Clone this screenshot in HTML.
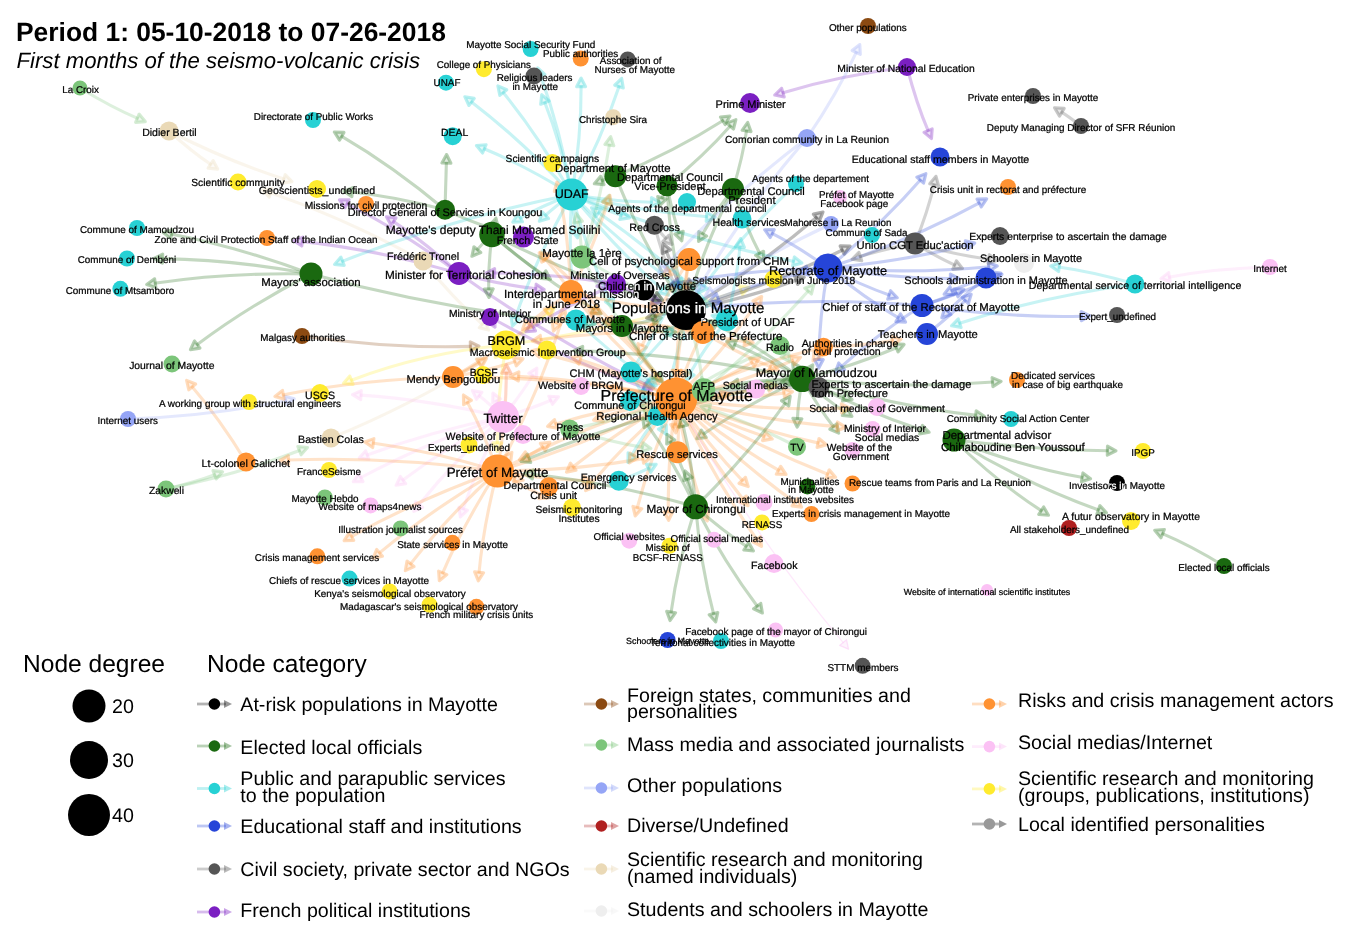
<!DOCTYPE html>
<html><head><meta charset="utf-8"><title>Period 1</title>
<style>
html,body{margin:0;padding:0;background:#fff;}
body{width:1351px;height:939px;overflow:hidden;}
svg{display:block;font-family:"Liberation Sans",Arial,sans-serif;text-rendering:geometricPrecision;}
.e{fill:none;stroke-linecap:butt;stroke-linejoin:miter;}
.l{fill:#000;stroke:#000;stroke-width:0.24px;}
</style></head><body>
<svg width="1351" height="939" viewBox="0 0 1351 939">
<rect width="1351" height="939" fill="#fff"/>

<g id="edges">
<g stroke="#7cc57a" stroke-opacity="0.260" stroke-width="3.1" class="e"><path d="M80.0,88.0Q111.5,107.3 138.2,118.6"/><path d="M135.6,122.4L145.3,121.6L139.1,114.1Z" stroke-opacity="0.322" stroke-width="3.1" stroke-linejoin="round" fill="#7cc57a" fill-opacity="0.13"/></g>
<g stroke="#ead9b6" stroke-opacity="0.260" stroke-width="3.1" class="e"><path d="M169.0,131.0Q192.0,151.9 211.3,164.8"/><path d="M208.1,168.1L217.7,169.1L213.1,160.6Z" stroke-opacity="0.322" stroke-width="3.1" stroke-linejoin="round" fill="#ead9b6" fill-opacity="0.13"/></g>
<g stroke="#ead9b6" stroke-opacity="0.260" stroke-width="3.1" class="e"><path d="M169.0,131.0Q228.5,161.5 284.7,179.2"/><path d="M282.5,183.3L292.0,181.6L285.2,174.7Z" stroke-opacity="0.322" stroke-width="3.1" stroke-linejoin="round" fill="#ead9b6" fill-opacity="0.13"/></g>
<g stroke="#ead9b6" stroke-opacity="0.260" stroke-width="3.1" class="e"><path d="M423.0,261.0Q345.8,218.5 269.9,192.6"/><path d="M272.2,188.6L262.6,190.1L269.3,197.1Z" stroke-opacity="0.322" stroke-width="3.1" stroke-linejoin="round" fill="#ead9b6" fill-opacity="0.13"/></g>
<g stroke="#ead9b6" stroke-opacity="0.260" stroke-width="3.1" class="e"><path d="M423.0,261.0Q453.1,298.2 482.9,324.9"/><path d="M479.2,327.7L488.6,330.1L485.2,321.0Z" stroke-opacity="0.322" stroke-width="3.1" stroke-linejoin="round" fill="#ead9b6" fill-opacity="0.13"/></g>
<g stroke="#1a6910" stroke-opacity="0.260" stroke-width="3.1" class="e"><path d="M445.0,209.8Q445.8,182.1 446.4,162.2"/><path d="M450.9,163.2L446.6,154.5L441.9,163.0Z" stroke-opacity="0.322" stroke-width="3.1" stroke-linejoin="round" fill="#1a6910" fill-opacity="0.13"/></g>
<g stroke="#1a6910" stroke-opacity="0.260" stroke-width="3.1" class="e"><path d="M445.0,209.8Q392.9,166.2 341.0,135.9"/><path d="M344.0,132.4L334.3,132.0L339.5,140.2Z" stroke-opacity="0.322" stroke-width="3.1" stroke-linejoin="round" fill="#1a6910" fill-opacity="0.13"/></g>
<g stroke="#1a6910" stroke-opacity="0.260" stroke-width="3.1" class="e"><path d="M445.0,209.8Q395.1,196.5 351.5,192.0"/><path d="M352.8,187.6L343.8,191.2L351.9,196.6Z" stroke-opacity="0.322" stroke-width="3.1" stroke-linejoin="round" fill="#1a6910" fill-opacity="0.13"/></g>
<g stroke="#1a6910" stroke-opacity="0.260" stroke-width="3.1" class="e"><path d="M445.0,209.8Q471.0,221.8 490.8,227.9"/><path d="M488.7,231.9L498.2,230.1L491.3,223.3Z" stroke-opacity="0.322" stroke-width="3.1" stroke-linejoin="round" fill="#1a6910" fill-opacity="0.13"/></g>
<g stroke="#1a6910" stroke-opacity="0.260" stroke-width="3.1" class="e"><path d="M492.0,234.5Q493.9,226.4 494.1,225.7"/><path d="M498.3,227.6L495.9,218.2L489.5,225.5Z" stroke-opacity="0.322" stroke-width="3.1" stroke-linejoin="round" fill="#1a6910" fill-opacity="0.13"/></g>
<g stroke="#7b1fc2" stroke-opacity="0.260" stroke-width="3.1" class="e"><path d="M459.0,273.4Q377.7,249.8 301.5,241.4"/><path d="M302.8,237.1L293.8,240.6L301.8,246.0Z" stroke-opacity="0.322" stroke-width="3.1" stroke-linejoin="round" fill="#7b1fc2" fill-opacity="0.13"/></g>
<g stroke="#7b1fc2" stroke-opacity="0.260" stroke-width="3.1" class="e"><path d="M459.0,273.4Q424.9,242.2 392.8,221.1"/><path d="M396.0,217.8L386.4,216.8L391.1,225.3Z" stroke-opacity="0.322" stroke-width="3.1" stroke-linejoin="round" fill="#7b1fc2" fill-opacity="0.13"/></g>
<g stroke="#7b1fc2" stroke-opacity="0.260" stroke-width="3.1" class="e"><path d="M459.0,273.4Q402.3,231.5 346.3,203.4"/><path d="M349.1,199.7L339.4,199.9L345.1,207.8Z" stroke-opacity="0.322" stroke-width="3.1" stroke-linejoin="round" fill="#7b1fc2" fill-opacity="0.13"/></g>
<g stroke="#7b1fc2" stroke-opacity="0.260" stroke-width="3.1" class="e"><path d="M459.0,273.4Q501.1,284.8 536.5,288.8"/><path d="M535.2,293.1L544.2,289.6L536.2,284.2Z" stroke-opacity="0.322" stroke-width="3.1" stroke-linejoin="round" fill="#7b1fc2" fill-opacity="0.13"/></g>
<g stroke="#7b1fc2" stroke-opacity="0.260" stroke-width="3.1" class="e"><path d="M459.0,273.4Q551.2,339.5 646.5,384.8"/><path d="M643.8,388.5L653.5,388.1L647.6,380.3Z" stroke-opacity="0.322" stroke-width="3.1" stroke-linejoin="round" fill="#7b1fc2" fill-opacity="0.13"/></g>
<g stroke="#1a6910" stroke-opacity="0.260" stroke-width="3.1" class="e"><path d="M311.0,274.0Q238.8,247.0 170.8,234.0"/><path d="M172.5,229.8L163.2,232.6L170.8,238.6Z" stroke-opacity="0.322" stroke-width="3.1" stroke-linejoin="round" fill="#1a6910" fill-opacity="0.13"/></g>
<g stroke="#1a6910" stroke-opacity="0.260" stroke-width="3.1" class="e"><path d="M311.0,274.0Q233.1,259.5 161.7,258.6"/><path d="M162.7,254.1L154.0,258.5L162.5,263.1Z" stroke-opacity="0.322" stroke-width="3.1" stroke-linejoin="round" fill="#1a6910" fill-opacity="0.13"/></g>
<g stroke="#1a6910" stroke-opacity="0.260" stroke-width="3.1" class="e"><path d="M311.0,274.0Q228.3,272.2 154.4,283.3"/><path d="M154.6,278.7L146.7,284.5L155.9,287.6Z" stroke-opacity="0.322" stroke-width="3.1" stroke-linejoin="round" fill="#1a6910" fill-opacity="0.13"/></g>
<g stroke="#1a6910" stroke-opacity="0.260" stroke-width="3.1" class="e"><path d="M311.0,274.0Q247.4,306.7 196.6,345.1"/><path d="M194.5,340.9L190.4,349.7L200.0,348.1Z" stroke-opacity="0.322" stroke-width="3.1" stroke-linejoin="round" fill="#1a6910" fill-opacity="0.13"/></g>
<g stroke="#1a6910" stroke-opacity="0.260" stroke-width="3.1" class="e"><path d="M311.0,274.0Q450.9,312.0 587.4,323.4"/><path d="M586.2,327.8L595.1,324.0L586.9,318.8Z" stroke-opacity="0.322" stroke-width="3.1" stroke-linejoin="round" fill="#1a6910" fill-opacity="0.13"/></g>
<g stroke="#8b4a12" stroke-opacity="0.260" stroke-width="3.1" class="e"><path d="M302.0,336.0Q390.2,348.8 471.3,346.4"/><path d="M470.6,350.9L479.0,346.1L470.3,341.9Z" stroke-opacity="0.322" stroke-width="3.1" stroke-linejoin="round" fill="#8b4a12" fill-opacity="0.13"/></g>
<g stroke="#ff9232" stroke-opacity="0.260" stroke-width="3.1" class="e"><path d="M246.0,462.0Q219.6,418.7 191.7,386.3"/><path d="M195.7,384.0L186.6,380.4L188.8,389.8Z" stroke-opacity="0.322" stroke-width="3.1" stroke-linejoin="round" fill="#ff9232" fill-opacity="0.13"/></g>
<g stroke="#7cc57a" stroke-opacity="0.260" stroke-width="3.1" class="e"><path d="M166.0,489.0Q195.0,482.3 215.4,474.5"/><path d="M216.2,479.0L222.6,471.8L213.0,470.6Z" stroke-opacity="0.322" stroke-width="3.1" stroke-linejoin="round" fill="#7cc57a" fill-opacity="0.13"/></g>
<g stroke="#7cc57a" stroke-opacity="0.260" stroke-width="3.1" class="e"><path d="M166.0,489.0Q238.6,474.3 300.2,450.3"/><path d="M301.1,454.8L307.5,447.5L297.8,446.5Z" stroke-opacity="0.322" stroke-width="3.1" stroke-linejoin="round" fill="#7cc57a" fill-opacity="0.13"/></g>
<g stroke="#ead9b6" stroke-opacity="0.260" stroke-width="3.1" class="e"><path d="M331.0,438.0Q412.1,404.8 479.4,362.2"/><path d="M481.1,366.4L485.9,358.0L476.3,358.8Z" stroke-opacity="0.322" stroke-width="3.1" stroke-linejoin="round" fill="#ead9b6" fill-opacity="0.13"/></g>
<g stroke="#95a5f6" stroke-opacity="0.260" stroke-width="3.1" class="e"><path d="M128.0,419.0Q212.1,416.1 286.6,400.4"/><path d="M286.7,405.0L294.2,398.8L284.9,396.2Z" stroke-opacity="0.322" stroke-width="3.1" stroke-linejoin="round" fill="#95a5f6" fill-opacity="0.13"/></g>
<g stroke="#ff9232" stroke-opacity="0.260" stroke-width="3.1" class="e"><path d="M453.0,377.0Q363.0,379.0 282.5,395.0"/><path d="M282.5,390.4L274.9,396.5L284.2,399.2Z" stroke-opacity="0.322" stroke-width="3.1" stroke-linejoin="round" fill="#ff9232" fill-opacity="0.13"/></g>
<g stroke="#ff9232" stroke-opacity="0.260" stroke-width="3.1" class="e"><path d="M453.0,377.0Q506.3,346.1 547.6,311.9"/><path d="M549.9,315.9L553.6,306.9L544.1,308.9Z" stroke-opacity="0.322" stroke-width="3.1" stroke-linejoin="round" fill="#ff9232" fill-opacity="0.13"/></g>
<g stroke="#ff9232" stroke-opacity="0.260" stroke-width="3.1" class="e"><path d="M453.0,377.0Q488.7,370.5 515.6,361.4"/><path d="M516.3,365.9L523.0,358.9L513.4,357.4Z" stroke-opacity="0.322" stroke-width="3.1" stroke-linejoin="round" fill="#ff9232" fill-opacity="0.13"/></g>
<g stroke="#ff9232" stroke-opacity="0.260" stroke-width="3.1" class="e"><path d="M453.0,377.0Q470.4,368.8 480.0,362.6"/><path d="M481.7,366.9L486.5,358.5L476.8,359.3Z" stroke-opacity="0.322" stroke-width="3.1" stroke-linejoin="round" fill="#ff9232" fill-opacity="0.13"/></g>
<g stroke="#ffeb2e" stroke-opacity="0.260" stroke-width="3.1" class="e"><path d="M506.0,345.0Q421.8,352.9 350.7,380.5"/><path d="M349.8,376.0L343.5,383.3L353.1,384.4Z" stroke-opacity="0.322" stroke-width="3.1" stroke-linejoin="round" fill="#ffeb2e" fill-opacity="0.13"/></g>
<g stroke="#ffeb2e" stroke-opacity="0.260" stroke-width="3.1" class="e"><path d="M506.0,345.0Q513.1,346.6 512.5,346.5"/><path d="M511.0,350.8L520.2,347.7L512.4,341.9Z" stroke-opacity="0.322" stroke-width="3.1" stroke-linejoin="round" fill="#ffeb2e" fill-opacity="0.13"/></g>
<g stroke="#ffeb2e" stroke-opacity="0.260" stroke-width="3.1" class="e"><path d="M506.0,345.0Q531.7,328.0 548.8,312.7"/><path d="M551.2,316.6L554.6,307.5L545.2,309.9Z" stroke-opacity="0.322" stroke-width="3.1" stroke-linejoin="round" fill="#ffeb2e" fill-opacity="0.13"/></g>
<g stroke="#ffeb2e" stroke-opacity="0.260" stroke-width="3.1" class="e"><path d="M506.0,345.0Q500.3,351.1 500.0,351.5"/><path d="M497.0,348.1L495.2,357.6L504.0,353.6Z" stroke-opacity="0.322" stroke-width="3.1" stroke-linejoin="round" fill="#ffeb2e" fill-opacity="0.13"/></g>
<g stroke="#ffeb2e" stroke-opacity="0.260" stroke-width="3.1" class="e"><path d="M506.0,345.0Q497.1,397.9 497.2,443.8"/><path d="M492.7,442.9L497.2,451.5L501.7,442.9Z" stroke-opacity="0.322" stroke-width="3.1" stroke-linejoin="round" fill="#ffeb2e" fill-opacity="0.13"/></g>
<g stroke="#ffeb2e" stroke-opacity="0.260" stroke-width="3.1" class="e"><path d="M506.0,345.0Q630.3,327.2 741.8,289.9"/><path d="M742.4,294.4L749.1,287.4L739.6,285.9Z" stroke-opacity="0.322" stroke-width="3.1" stroke-linejoin="round" fill="#ffeb2e" fill-opacity="0.13"/></g>
<g stroke="#fbc1f4" stroke-opacity="0.260" stroke-width="3.1" class="e"><path d="M503.0,417.0Q428.5,399.6 360.2,395.1"/><path d="M361.3,390.6L352.5,394.6L360.7,399.6Z" stroke-opacity="0.322" stroke-width="3.1" stroke-linejoin="round" fill="#fbc1f4" fill-opacity="0.13"/></g>
<g stroke="#fbc1f4" stroke-opacity="0.260" stroke-width="3.1" class="e"><path d="M503.0,417.0Q429.3,431.6 366.5,455.3"/><path d="M365.7,450.8L359.2,458.0L368.8,459.2Z" stroke-opacity="0.322" stroke-width="3.1" stroke-linejoin="round" fill="#fbc1f4" fill-opacity="0.13"/></g>
<g stroke="#fbc1f4" stroke-opacity="0.260" stroke-width="3.1" class="e"><path d="M503.0,417.0Q425.3,443.2 360.1,478.0"/><path d="M358.8,473.7L353.3,481.7L363.0,481.6Z" stroke-opacity="0.322" stroke-width="3.1" stroke-linejoin="round" fill="#fbc1f4" fill-opacity="0.13"/></g>
<g stroke="#fbc1f4" stroke-opacity="0.260" stroke-width="3.1" class="e"><path d="M503.0,417.0Q446.8,446.9 402.3,480.6"/><path d="M400.3,476.5L396.1,485.3L405.7,483.7Z" stroke-opacity="0.322" stroke-width="3.1" stroke-linejoin="round" fill="#fbc1f4" fill-opacity="0.13"/></g>
<g stroke="#fbc1f4" stroke-opacity="0.260" stroke-width="3.1" class="e"><path d="M503.0,417.0Q477.7,465.4 462.9,509.7"/><path d="M458.9,507.4L460.4,517.0L467.4,510.3Z" stroke-opacity="0.322" stroke-width="3.1" stroke-linejoin="round" fill="#fbc1f4" fill-opacity="0.13"/></g>
<g stroke="#fbc1f4" stroke-opacity="0.260" stroke-width="3.1" class="e"><path d="M503.0,417.0Q506.7,390.8 506.6,372.2"/><path d="M511.1,373.1L506.6,364.5L502.1,373.1Z" stroke-opacity="0.322" stroke-width="3.1" stroke-linejoin="round" fill="#fbc1f4" fill-opacity="0.13"/></g>
<g stroke="#fbc1f4" stroke-opacity="0.260" stroke-width="3.1" class="e"><path d="M503.0,417.0Q521.8,393.8 533.0,374.8"/><path d="M536.5,377.8L536.9,368.1L528.7,373.2Z" stroke-opacity="0.322" stroke-width="3.1" stroke-linejoin="round" fill="#fbc1f4" fill-opacity="0.13"/></g>
<g stroke="#fbc1f4" stroke-opacity="0.260" stroke-width="3.1" class="e"><path d="M503.0,417.0Q498.6,404.8 496.3,400.1"/><path d="M500.7,398.9L492.9,393.1L492.7,402.8Z" stroke-opacity="0.322" stroke-width="3.1" stroke-linejoin="round" fill="#fbc1f4" fill-opacity="0.13"/></g>
<g stroke="#fbc1f4" stroke-opacity="0.260" stroke-width="3.1" class="e"><path d="M503.0,417.0Q531.5,408.8 551.5,400.0"/><path d="M552.5,404.4L558.5,396.8L548.8,396.2Z" stroke-opacity="0.322" stroke-width="3.1" stroke-linejoin="round" fill="#fbc1f4" fill-opacity="0.13"/></g>
<g stroke="#fbc1f4" stroke-opacity="0.260" stroke-width="3.1" class="e"><path d="M503.0,417.0Q488.5,402.8 478.5,395.3"/><path d="M481.9,392.2L472.4,390.6L476.5,399.4Z" stroke-opacity="0.322" stroke-width="3.1" stroke-linejoin="round" fill="#fbc1f4" fill-opacity="0.13"/></g>
<g stroke="#fbc1f4" stroke-opacity="0.260" stroke-width="3.1" class="e"><path d="M503.0,417.0Q454.3,460.4 418.6,505.3"/><path d="M415.6,501.8L413.8,511.4L422.6,507.4Z" stroke-opacity="0.322" stroke-width="3.1" stroke-linejoin="round" fill="#fbc1f4" fill-opacity="0.13"/></g>
<g stroke="#ff9232" stroke-opacity="0.260" stroke-width="3.1" class="e"><path d="M497.5,471.0Q447.1,517.0 410.0,564.6"/><path d="M407.0,561.1L405.3,570.7L414.1,566.6Z" stroke-opacity="0.322" stroke-width="3.1" stroke-linejoin="round" fill="#ff9232" fill-opacity="0.13"/></g>
<g stroke="#ff9232" stroke-opacity="0.260" stroke-width="3.1" class="e"><path d="M497.5,471.0Q463.8,523.5 442.4,573.6"/><path d="M438.6,571.1L439.3,580.7L446.9,574.6Z" stroke-opacity="0.322" stroke-width="3.1" stroke-linejoin="round" fill="#ff9232" fill-opacity="0.13"/></g>
<g stroke="#ff9232" stroke-opacity="0.260" stroke-width="3.1" class="e"><path d="M497.5,471.0Q483.4,525.2 479.0,573.2"/><path d="M474.6,571.9L478.3,580.9L483.6,572.7Z" stroke-opacity="0.322" stroke-width="3.1" stroke-linejoin="round" fill="#ff9232" fill-opacity="0.13"/></g>
<g stroke="#ff9232" stroke-opacity="0.260" stroke-width="3.1" class="e"><path d="M497.5,471.0Q417.8,499.4 350.9,536.9"/><path d="M349.4,532.6L344.1,540.7L353.8,540.4Z" stroke-opacity="0.322" stroke-width="3.1" stroke-linejoin="round" fill="#ff9232" fill-opacity="0.13"/></g>
<g stroke="#ff9232" stroke-opacity="0.260" stroke-width="3.1" class="e"><path d="M497.5,471.0Q431.5,509.6 378.9,553.4"/><path d="M376.7,549.4L373.0,558.4L382.5,556.3Z" stroke-opacity="0.322" stroke-width="3.1" stroke-linejoin="round" fill="#ff9232" fill-opacity="0.13"/></g>
<g stroke="#ff9232" stroke-opacity="0.260" stroke-width="3.1" class="e"><path d="M497.5,471.0Q432.2,451.1 372.4,443.0"/><path d="M373.9,438.6L364.8,441.9L372.7,447.6Z" stroke-opacity="0.322" stroke-width="3.1" stroke-linejoin="round" fill="#ff9232" fill-opacity="0.13"/></g>
<g stroke="#ff9232" stroke-opacity="0.260" stroke-width="3.1" class="e"><path d="M497.5,471.0Q389.1,456.2 287.7,460.0"/><path d="M288.4,455.5L280.0,460.3L288.7,464.5Z" stroke-opacity="0.322" stroke-width="3.1" stroke-linejoin="round" fill="#ff9232" fill-opacity="0.13"/></g>
<g stroke="#ff9232" stroke-opacity="0.260" stroke-width="3.1" class="e"><path d="M497.5,471.0Q483.4,431.6 467.1,401.8"/><path d="M471.4,400.4L463.4,395.0L463.6,404.7Z" stroke-opacity="0.322" stroke-width="3.1" stroke-linejoin="round" fill="#ff9232" fill-opacity="0.13"/></g>
<g stroke="#ff9232" stroke-opacity="0.260" stroke-width="3.1" class="e"><path d="M497.5,471.0Q506.4,418.1 506.3,372.2"/><path d="M510.8,373.1L506.3,364.5L501.8,373.1Z" stroke-opacity="0.322" stroke-width="3.1" stroke-linejoin="round" fill="#ff9232" fill-opacity="0.13"/></g>
<g stroke="#ff9232" stroke-opacity="0.260" stroke-width="3.1" class="e"><path d="M497.5,471.0Q510.2,476.3 515.8,478.1"/><path d="M513.7,482.1L523.2,480.3L516.3,473.5Z" stroke-opacity="0.322" stroke-width="3.1" stroke-linejoin="round" fill="#ff9232" fill-opacity="0.13"/></g>
<g stroke="#ff9232" stroke-opacity="0.260" stroke-width="3.1" class="e"><path d="M497.5,471.0Q522.1,486.3 541.4,494.8"/><path d="M538.8,498.6L548.5,497.9L542.4,490.3Z" stroke-opacity="0.322" stroke-width="3.1" stroke-linejoin="round" fill="#ff9232" fill-opacity="0.13"/></g>
<g stroke="#ff9232" stroke-opacity="0.260" stroke-width="3.1" class="e"><path d="M497.5,471.0Q544.4,479.5 584.1,480.5"/><path d="M583.1,485.0L591.8,480.7L583.3,476.0Z" stroke-opacity="0.322" stroke-width="3.1" stroke-linejoin="round" fill="#ff9232" fill-opacity="0.13"/></g>
<g stroke="#ff9232" stroke-opacity="0.260" stroke-width="3.1" class="e"><path d="M497.5,471.0Q578.6,447.2 647.2,413.3"/><path d="M648.4,417.7L654.2,409.9L644.4,409.6Z" stroke-opacity="0.322" stroke-width="3.1" stroke-linejoin="round" fill="#ff9232" fill-opacity="0.13"/></g>
<g stroke="#ff9232" stroke-opacity="0.260" stroke-width="3.1" class="e"><path d="M497.5,471.0Q505.2,462.0 507.5,458.7"/><path d="M510.7,461.9L511.9,452.3L503.3,456.8Z" stroke-opacity="0.322" stroke-width="3.1" stroke-linejoin="round" fill="#ff9232" fill-opacity="0.13"/></g>
<g stroke="#ff9232" stroke-opacity="0.260" stroke-width="3.1" class="e"><path d="M497.5,471.0Q492.3,465.2 492.2,465.1"/><path d="M495.9,462.4L486.6,459.8L489.7,469.0Z" stroke-opacity="0.322" stroke-width="3.1" stroke-linejoin="round" fill="#ff9232" fill-opacity="0.13"/></g>
<g stroke="#ff9232" stroke-opacity="0.260" stroke-width="3.1" class="e"><path d="M497.5,471.0Q524.8,458.5 543.5,446.6"/><path d="M545.2,450.8L550.0,442.4L540.3,443.3Z" stroke-opacity="0.322" stroke-width="3.1" stroke-linejoin="round" fill="#ff9232" fill-opacity="0.13"/></g>
<g stroke="#ff9232" stroke-opacity="0.260" stroke-width="3.1" class="e"><path d="M497.5,471.0Q575.1,470.7 643.7,458.6"/><path d="M643.6,463.2L651.3,457.3L642.0,454.3Z" stroke-opacity="0.322" stroke-width="3.1" stroke-linejoin="round" fill="#ff9232" fill-opacity="0.13"/></g>
<g stroke="#ff9232" stroke-opacity="0.260" stroke-width="3.1" class="e"><path d="M497.5,471.0Q538.5,394.0 562.7,318.4"/><path d="M566.8,320.6L565.1,311.0L558.2,317.8Z" stroke-opacity="0.322" stroke-width="3.1" stroke-linejoin="round" fill="#ff9232" fill-opacity="0.13"/></g>
<g stroke="#27d1d4" stroke-opacity="0.260" stroke-width="3.1" class="e"><path d="M571.8,194.5Q522.4,140.9 470.9,101.4"/><path d="M474.3,98.4L464.8,96.7L468.9,105.5Z" stroke-opacity="0.322" stroke-width="3.1" stroke-linejoin="round" fill="#27d1d4" fill-opacity="0.13"/></g>
<g stroke="#27d1d4" stroke-opacity="0.260" stroke-width="3.1" class="e"><path d="M571.8,194.5Q539.5,137.0 502.8,91.9"/><path d="M506.8,89.7L497.9,85.9L499.8,95.4Z" stroke-opacity="0.322" stroke-width="3.1" stroke-linejoin="round" fill="#27d1d4" fill-opacity="0.13"/></g>
<g stroke="#27d1d4" stroke-opacity="0.260" stroke-width="3.1" class="e"><path d="M571.8,194.5Q560.9,143.3 544.6,101.9"/><path d="M549.1,101.0L541.7,94.7L540.7,104.3Z" stroke-opacity="0.322" stroke-width="3.1" stroke-linejoin="round" fill="#27d1d4" fill-opacity="0.13"/></g>
<g stroke="#27d1d4" stroke-opacity="0.260" stroke-width="3.1" class="e"><path d="M571.8,194.5Q560.2,129.6 540.4,75.1"/><path d="M544.9,74.3L537.7,67.8L536.4,77.4Z" stroke-opacity="0.322" stroke-width="3.1" stroke-linejoin="round" fill="#27d1d4" fill-opacity="0.13"/></g>
<g stroke="#27d1d4" stroke-opacity="0.260" stroke-width="3.1" class="e"><path d="M571.8,194.5Q581.4,136.6 581.1,85.7"/><path d="M585.6,86.6L581.1,78.0L576.6,86.6Z" stroke-opacity="0.322" stroke-width="3.1" stroke-linejoin="round" fill="#27d1d4" fill-opacity="0.13"/></g>
<g stroke="#27d1d4" stroke-opacity="0.260" stroke-width="3.1" class="e"><path d="M571.8,194.5Q601.8,138.5 619.3,85.8"/><path d="M623.3,88.0L621.7,78.4L614.7,85.2Z" stroke-opacity="0.322" stroke-width="3.1" stroke-linejoin="round" fill="#27d1d4" fill-opacity="0.13"/></g>
<g stroke="#27d1d4" stroke-opacity="0.260" stroke-width="3.1" class="e"><path d="M571.8,194.5Q526.0,166.1 483.6,148.5"/><path d="M486.1,144.7L476.4,145.5L482.6,153.0Z" stroke-opacity="0.322" stroke-width="3.1" stroke-linejoin="round" fill="#27d1d4" fill-opacity="0.13"/></g>
<g stroke="#27d1d4" stroke-opacity="0.260" stroke-width="3.1" class="e"><path d="M571.8,194.5Q449.9,218.7 341.7,261.6"/><path d="M340.9,257.1L334.5,264.4L344.2,265.4Z" stroke-opacity="0.322" stroke-width="3.1" stroke-linejoin="round" fill="#27d1d4" fill-opacity="0.13"/></g>
<g stroke="#27d1d4" stroke-opacity="0.260" stroke-width="3.1" class="e"><path d="M571.8,194.5Q541.2,206.2 519.6,218.3"/><path d="M518.1,214.0L512.8,222.1L522.5,221.8Z" stroke-opacity="0.322" stroke-width="3.1" stroke-linejoin="round" fill="#27d1d4" fill-opacity="0.13"/></g>
<g stroke="#27d1d4" stroke-opacity="0.260" stroke-width="3.1" class="e"><path d="M571.8,194.5Q554.6,206.8 544.9,215.9"/><path d="M542.5,212.0L539.3,221.2L548.6,218.6Z" stroke-opacity="0.322" stroke-width="3.1" stroke-linejoin="round" fill="#27d1d4" fill-opacity="0.13"/></g>
<g stroke="#27d1d4" stroke-opacity="0.260" stroke-width="3.1" class="e"><path d="M571.8,194.5Q642.6,212.0 707.4,216.8"/><path d="M706.2,221.3L715.1,217.4L706.8,212.3Z" stroke-opacity="0.322" stroke-width="3.1" stroke-linejoin="round" fill="#27d1d4" fill-opacity="0.13"/></g>
<g stroke="#27d1d4" stroke-opacity="0.260" stroke-width="3.1" class="e"><path d="M571.8,194.5Q683.9,239.1 794.3,261.5"/><path d="M792.6,265.7L801.9,263.0L794.4,256.9Z" stroke-opacity="0.322" stroke-width="3.1" stroke-linejoin="round" fill="#27d1d4" fill-opacity="0.13"/></g>
<g stroke="#27d1d4" stroke-opacity="0.260" stroke-width="3.1" class="e"><path d="M571.8,194.5Q615.7,201.8 652.3,202.2"/><path d="M651.4,206.7L660.0,202.3L651.5,197.7Z" stroke-opacity="0.322" stroke-width="3.1" stroke-linejoin="round" fill="#27d1d4" fill-opacity="0.13"/></g>
<g stroke="#27d1d4" stroke-opacity="0.260" stroke-width="3.1" class="e"><path d="M571.8,194.5Q599.8,208.2 622.0,215.5"/><path d="M619.8,219.5L629.4,217.9L622.6,210.9Z" stroke-opacity="0.322" stroke-width="3.1" stroke-linejoin="round" fill="#27d1d4" fill-opacity="0.13"/></g>
<g stroke="#27d1d4" stroke-opacity="0.260" stroke-width="3.1" class="e"><path d="M571.8,194.5Q615.9,249.0 662.7,290.0"/><path d="M659.1,292.8L668.5,295.1L665.0,286.1Z" stroke-opacity="0.322" stroke-width="3.1" stroke-linejoin="round" fill="#27d1d4" fill-opacity="0.13"/></g>
<g stroke="#27d1d4" stroke-opacity="0.260" stroke-width="3.1" class="e"><path d="M571.8,194.5Q634.6,256.6 700.7,302.3"/><path d="M697.4,305.5L707.1,306.7L702.5,298.1Z" stroke-opacity="0.322" stroke-width="3.1" stroke-linejoin="round" fill="#27d1d4" fill-opacity="0.13"/></g>
<g stroke="#27d1d4" stroke-opacity="0.260" stroke-width="3.1" class="e"><path d="M571.8,194.5Q568.3,247.7 572.9,292.9"/><path d="M568.3,292.5L573.7,300.6L577.3,291.6Z" stroke-opacity="0.322" stroke-width="3.1" stroke-linejoin="round" fill="#27d1d4" fill-opacity="0.13"/></g>
<g stroke="#27d1d4" stroke-opacity="0.260" stroke-width="3.1" class="e"><path d="M571.8,194.5Q536.3,257.7 514.9,318.7"/><path d="M511.0,316.4L512.4,326.1L519.5,319.4Z" stroke-opacity="0.322" stroke-width="3.1" stroke-linejoin="round" fill="#27d1d4" fill-opacity="0.13"/></g>
<g stroke="#27d1d4" stroke-opacity="0.260" stroke-width="3.1" class="e"><path d="M571.8,194.5Q573.2,216.4 576.0,230.2"/><path d="M571.4,230.2L577.5,237.8L580.2,228.5Z" stroke-opacity="0.322" stroke-width="3.1" stroke-linejoin="round" fill="#27d1d4" fill-opacity="0.13"/></g>
<g stroke="#27d1d4" stroke-opacity="0.260" stroke-width="3.1" class="e"><path d="M571.8,194.5Q587.6,252.9 609.8,300.6"/><path d="M605.4,301.7L613.1,307.6L613.6,297.9Z" stroke-opacity="0.322" stroke-width="3.1" stroke-linejoin="round" fill="#27d1d4" fill-opacity="0.13"/></g>
<g stroke="#7cc57a" stroke-opacity="0.260" stroke-width="3.1" class="e"><path d="M582.0,257.0Q601.5,198.0 609.5,144.3"/><path d="M613.8,145.8L610.6,136.6L604.9,144.5Z" stroke-opacity="0.322" stroke-width="3.1" stroke-linejoin="round" fill="#7cc57a" fill-opacity="0.13"/></g>
<g stroke="#7cc57a" stroke-opacity="0.260" stroke-width="3.1" class="e"><path d="M582.0,257.0Q580.6,235.1 577.8,221.3"/><path d="M582.4,221.3L576.3,213.7L573.6,223.0Z" stroke-opacity="0.322" stroke-width="3.1" stroke-linejoin="round" fill="#7cc57a" fill-opacity="0.13"/></g>
<g stroke="#7cc57a" stroke-opacity="0.260" stroke-width="3.1" class="e"><path d="M582.0,257.0Q620.7,281.8 655.5,297.2"/><path d="M652.9,300.9L662.6,300.3L656.5,292.7Z" stroke-opacity="0.322" stroke-width="3.1" stroke-linejoin="round" fill="#7cc57a" fill-opacity="0.13"/></g>
<g stroke="#7cc57a" stroke-opacity="0.260" stroke-width="3.1" class="e"><path d="M582.0,257.0Q617.0,322.9 657.9,375.6"/><path d="M653.9,377.7L662.7,381.7L661.0,372.2Z" stroke-opacity="0.322" stroke-width="3.1" stroke-linejoin="round" fill="#7cc57a" fill-opacity="0.13"/></g>
<g stroke="#7cc57a" stroke-opacity="0.260" stroke-width="3.1" class="e"><path d="M582.0,257.0Q598.0,227.1 606.7,202.5"/><path d="M610.6,204.8L609.2,195.2L602.1,201.8Z" stroke-opacity="0.322" stroke-width="3.1" stroke-linejoin="round" fill="#7cc57a" fill-opacity="0.13"/></g>
<g stroke="#1a6910" stroke-opacity="0.260" stroke-width="3.1" class="e"><path d="M615.4,176.2Q675.3,151.0 723.5,120.3"/><path d="M725.2,124.6L730.0,116.1L720.4,117.0Z" stroke-opacity="0.322" stroke-width="3.1" stroke-linejoin="round" fill="#1a6910" fill-opacity="0.13"/></g>
<g stroke="#1a6910" stroke-opacity="0.260" stroke-width="3.1" class="e"><path d="M615.4,176.2Q604.7,179.5 601.5,180.8"/><path d="M600.6,176.3L594.3,183.8L604.0,184.6Z" stroke-opacity="0.322" stroke-width="3.1" stroke-linejoin="round" fill="#1a6910" fill-opacity="0.13"/></g>
<g stroke="#1a6910" stroke-opacity="0.260" stroke-width="3.1" class="e"><path d="M615.4,176.2Q640.0,236.9 670.5,285.7"/><path d="M666.3,287.4L674.6,292.3L673.9,282.6Z" stroke-opacity="0.322" stroke-width="3.1" stroke-linejoin="round" fill="#1a6910" fill-opacity="0.13"/></g>
<g stroke="#1a6910" stroke-opacity="0.260" stroke-width="3.1" class="e"><path d="M667.0,185.8Q704.2,155.5 730.7,125.4"/><path d="M733.5,129.0L735.9,119.6L726.8,123.1Z" stroke-opacity="0.322" stroke-width="3.1" stroke-linejoin="round" fill="#1a6910" fill-opacity="0.13"/></g>
<g stroke="#1a6910" stroke-opacity="0.260" stroke-width="3.1" class="e"><path d="M667.0,185.8Q669.8,239.0 679.7,283.2"/><path d="M675.1,283.4L681.4,290.8L683.9,281.4Z" stroke-opacity="0.322" stroke-width="3.1" stroke-linejoin="round" fill="#1a6910" fill-opacity="0.13"/></g>
<g stroke="#1a6910" stroke-opacity="0.260" stroke-width="3.1" class="e"><path d="M667.0,185.8Q662.7,195.8 661.8,198.7"/><path d="M657.7,196.5L659.4,206.0L666.3,199.2Z" stroke-opacity="0.322" stroke-width="3.1" stroke-linejoin="round" fill="#1a6910" fill-opacity="0.13"/></g>
<g stroke="#1a6910" stroke-opacity="0.260" stroke-width="3.1" class="e"><path d="M667.0,185.8Q672.4,213.9 679.3,233.5"/><path d="M674.8,234.2L681.8,240.8L683.2,231.2Z" stroke-opacity="0.322" stroke-width="3.1" stroke-linejoin="round" fill="#1a6910" fill-opacity="0.13"/></g>
<g stroke="#1a6910" stroke-opacity="0.260" stroke-width="3.1" class="e"><path d="M733.0,189.0Q743.0,156.2 746.6,130.1"/><path d="M751.0,131.6L747.7,122.4L742.1,130.3Z" stroke-opacity="0.322" stroke-width="3.1" stroke-linejoin="round" fill="#1a6910" fill-opacity="0.13"/></g>
<g stroke="#1a6910" stroke-opacity="0.260" stroke-width="3.1" class="e"><path d="M733.0,189.0Q745.5,226.2 760.0,254.0"/><path d="M755.6,255.3L763.6,260.9L763.6,251.2Z" stroke-opacity="0.322" stroke-width="3.1" stroke-linejoin="round" fill="#1a6910" fill-opacity="0.13"/></g>
<g stroke="#1a6910" stroke-opacity="0.260" stroke-width="3.1" class="e"><path d="M733.0,189.0Q734.1,194.6 733.5,192.6"/><path d="M729.0,192.9L735.6,200.1L737.7,190.6Z" stroke-opacity="0.322" stroke-width="3.1" stroke-linejoin="round" fill="#1a6910" fill-opacity="0.13"/></g>
<g stroke="#1a6910" stroke-opacity="0.260" stroke-width="3.1" class="e"><path d="M733.0,189.0Q708.0,238.3 693.9,283.5"/><path d="M689.9,281.4L691.6,290.9L698.5,284.0Z" stroke-opacity="0.322" stroke-width="3.1" stroke-linejoin="round" fill="#1a6910" fill-opacity="0.13"/></g>
<g stroke="#1a6910" stroke-opacity="0.260" stroke-width="3.1" class="e"><path d="M733.0,189.0Q713.8,213.9 702.3,234.6"/><path d="M698.8,231.7L698.5,241.4L706.7,236.0Z" stroke-opacity="0.322" stroke-width="3.1" stroke-linejoin="round" fill="#1a6910" fill-opacity="0.13"/></g>
<g stroke="#1a6910" stroke-opacity="0.260" stroke-width="3.1" class="e"><path d="M492.0,234.5Q481.3,244.8 476.8,250.3"/><path d="M473.9,246.8L471.9,256.3L480.8,252.5Z" stroke-opacity="0.322" stroke-width="3.1" stroke-linejoin="round" fill="#1a6910" fill-opacity="0.13"/></g>
<g stroke="#1a6910" stroke-opacity="0.260" stroke-width="3.1" class="e"><path d="M492.0,234.5Q488.1,265.9 488.8,289.8"/><path d="M484.2,289.0L489.0,297.5L493.2,288.8Z" stroke-opacity="0.322" stroke-width="3.1" stroke-linejoin="round" fill="#1a6910" fill-opacity="0.13"/></g>
<g stroke="#1a6910" stroke-opacity="0.260" stroke-width="3.1" class="e"><path d="M492.0,234.5Q494.3,234.9 489.0,234.1"/><path d="M487.4,238.4L496.6,235.3L488.8,229.5Z" stroke-opacity="0.322" stroke-width="3.1" stroke-linejoin="round" fill="#1a6910" fill-opacity="0.13"/></g>
<g stroke="#1a6910" stroke-opacity="0.260" stroke-width="3.1" class="e"><path d="M492.0,234.5Q519.6,259.2 544.0,275.1"/><path d="M540.8,278.4L550.5,279.3L545.8,270.8Z" stroke-opacity="0.322" stroke-width="3.1" stroke-linejoin="round" fill="#1a6910" fill-opacity="0.13"/></g>
<g stroke="#1a6910" stroke-opacity="0.260" stroke-width="3.1" class="e"><path d="M492.0,234.5Q543.2,278.8 594.4,309.7"/><path d="M591.3,313.1L601.0,313.7L596.0,305.4Z" stroke-opacity="0.322" stroke-width="3.1" stroke-linejoin="round" fill="#1a6910" fill-opacity="0.13"/></g>
<g stroke="#1a6910" stroke-opacity="0.260" stroke-width="3.1" class="e"><path d="M492.0,234.5Q573.6,276.0 653.6,300.4"/><path d="M651.4,304.5L661.0,302.7L654.1,295.9Z" stroke-opacity="0.322" stroke-width="3.1" stroke-linejoin="round" fill="#1a6910" fill-opacity="0.13"/></g>
<g stroke="#7b1fc2" stroke-opacity="0.260" stroke-width="3.1" class="e"><path d="M616.0,284.0Q568.9,304.3 532.4,327.6"/><path d="M530.7,323.4L525.9,331.8L535.5,330.9Z" stroke-opacity="0.322" stroke-width="3.1" stroke-linejoin="round" fill="#7b1fc2" fill-opacity="0.13"/></g>
<g stroke="#7b1fc2" stroke-opacity="0.260" stroke-width="3.1" class="e"><path d="M616.0,284.0Q606.3,284.7 604.5,285.0"/><path d="M604.6,280.5L596.8,286.3L606.0,289.3Z" stroke-opacity="0.322" stroke-width="3.1" stroke-linejoin="round" fill="#7b1fc2" fill-opacity="0.13"/></g>
<g stroke="#7b1fc2" stroke-opacity="0.260" stroke-width="3.1" class="e"><path d="M616.0,284.0Q638.0,294.8 653.7,300.1"/><path d="M651.5,304.1L661.1,302.5L654.3,295.5Z" stroke-opacity="0.322" stroke-width="3.1" stroke-linejoin="round" fill="#7b1fc2" fill-opacity="0.13"/></g>
<g stroke="#7b1fc2" stroke-opacity="0.260" stroke-width="3.1" class="e"><path d="M616.0,284.0Q551.4,273.1 493.7,273.0"/><path d="M494.6,268.5L486.0,273.0L494.6,277.5Z" stroke-opacity="0.322" stroke-width="3.1" stroke-linejoin="round" fill="#7b1fc2" fill-opacity="0.13"/></g>
<g stroke="#7b1fc2" stroke-opacity="0.260" stroke-width="3.1" class="e"><path d="M490.0,317.0Q492.3,322.2 491.3,320.4"/><path d="M487.0,321.7L495.0,327.2L494.9,317.5Z" stroke-opacity="0.322" stroke-width="3.1" stroke-linejoin="round" fill="#7b1fc2" fill-opacity="0.13"/></g>
<g stroke="#7b1fc2" stroke-opacity="0.260" stroke-width="3.1" class="e"><path d="M490.0,317.0Q567.8,360.8 644.4,387.8"/><path d="M642.1,391.7L651.7,390.3L645.1,383.2Z" stroke-opacity="0.322" stroke-width="3.1" stroke-linejoin="round" fill="#7b1fc2" fill-opacity="0.13"/></g>
<g stroke="#ff9232" stroke-opacity="0.260" stroke-width="3.1" class="e"><path d="M571.0,292.0Q556.4,271.3 544.5,258.5"/><path d="M548.4,256.1L539.2,252.8L541.8,262.2Z" stroke-opacity="0.322" stroke-width="3.1" stroke-linejoin="round" fill="#ff9232" fill-opacity="0.13"/></g>
<g stroke="#ff9232" stroke-opacity="0.260" stroke-width="3.1" class="e"><path d="M571.0,292.0Q568.6,236.4 558.5,189.7"/><path d="M563.1,189.6L556.9,182.1L554.3,191.5Z" stroke-opacity="0.322" stroke-width="3.1" stroke-linejoin="round" fill="#ff9232" fill-opacity="0.13"/></g>
<g stroke="#ff9232" stroke-opacity="0.260" stroke-width="3.1" class="e"><path d="M571.0,292.0Q594.5,245.2 607.6,202.7"/><path d="M611.6,204.8L609.9,195.3L603.0,202.2Z" stroke-opacity="0.322" stroke-width="3.1" stroke-linejoin="round" fill="#ff9232" fill-opacity="0.13"/></g>
<g stroke="#ff9232" stroke-opacity="0.260" stroke-width="3.1" class="e"><path d="M571.0,292.0Q545.3,309.0 528.2,324.3"/><path d="M525.8,320.4L522.4,329.5L531.8,327.1Z" stroke-opacity="0.322" stroke-width="3.1" stroke-linejoin="round" fill="#ff9232" fill-opacity="0.13"/></g>
<g stroke="#ff9232" stroke-opacity="0.260" stroke-width="3.1" class="e"><path d="M571.0,292.0Q614.5,303.3 651.5,307.1"/><path d="M650.1,311.5L659.2,307.9L651.1,302.5Z" stroke-opacity="0.322" stroke-width="3.1" stroke-linejoin="round" fill="#ff9232" fill-opacity="0.13"/></g>
<g stroke="#ff9232" stroke-opacity="0.260" stroke-width="3.1" class="e"><path d="M571.0,292.0Q571.3,296.4 570.9,293.1"/><path d="M566.3,292.8L571.9,300.7L575.2,291.6Z" stroke-opacity="0.322" stroke-width="3.1" stroke-linejoin="round" fill="#ff9232" fill-opacity="0.13"/></g>
<g stroke="#ff9232" stroke-opacity="0.260" stroke-width="3.1" class="e"><path d="M571.0,292.0Q585.4,303.8 594.5,309.6"/><path d="M591.3,312.9L601.0,313.8L596.2,305.3Z" stroke-opacity="0.322" stroke-width="3.1" stroke-linejoin="round" fill="#ff9232" fill-opacity="0.13"/></g>
<g stroke="#ff9232" stroke-opacity="0.260" stroke-width="3.1" class="e"><path d="M571.0,292.0Q611.1,341.6 653.0,378.6"/><path d="M649.4,381.4L658.8,383.7L655.3,374.6Z" stroke-opacity="0.322" stroke-width="3.1" stroke-linejoin="round" fill="#ff9232" fill-opacity="0.13"/></g>
<g stroke="#ff9232" stroke-opacity="0.260" stroke-width="3.1" class="e"><path d="M571.0,292.0Q560.8,311.0 556.1,323.8"/><path d="M552.1,321.4L553.4,331.1L560.6,324.6Z" stroke-opacity="0.322" stroke-width="3.1" stroke-linejoin="round" fill="#ff9232" fill-opacity="0.13"/></g>
<g stroke="#000000" stroke-opacity="0.260" stroke-width="3.3" class="e"><path d="M686.0,310.0Q676.9,304.5 674.3,303.2"/><path d="M677.0,299.5L667.3,299.8L673.1,307.6Z" stroke-opacity="0.322" stroke-width="3.3" stroke-linejoin="round" fill="#000000" fill-opacity="0.13"/></g>
<g stroke="#000000" stroke-opacity="0.260" stroke-width="3.3" class="e"><path d="M686.0,310.0Q758.8,267.0 817.0,217.1"/><path d="M819.3,221.1L822.9,212.1L813.4,214.2Z" stroke-opacity="0.322" stroke-width="3.3" stroke-linejoin="round" fill="#000000" fill-opacity="0.13"/></g>
<g stroke="#000000" stroke-opacity="0.260" stroke-width="3.3" class="e"><path d="M686.0,310.0Q770.8,285.3 843.0,249.7"/><path d="M844.2,254.1L849.9,246.2L840.2,246.0Z" stroke-opacity="0.322" stroke-width="3.3" stroke-linejoin="round" fill="#000000" fill-opacity="0.13"/></g>
<g stroke="#000000" stroke-opacity="0.260" stroke-width="3.3" class="e"><path d="M686.0,310.0Q677.0,275.9 666.1,250.8"/><path d="M670.5,249.8L663.0,243.7L662.3,253.4Z" stroke-opacity="0.322" stroke-width="3.3" stroke-linejoin="round" fill="#000000" fill-opacity="0.13"/></g>
<g stroke="#000000" stroke-opacity="0.260" stroke-width="3.3" class="e"><path d="M686.0,310.0Q746.5,298.5 797.0,279.9"/><path d="M797.7,284.4L804.2,277.2L794.6,276.0Z" stroke-opacity="0.322" stroke-width="3.3" stroke-linejoin="round" fill="#000000" fill-opacity="0.13"/></g>
<g stroke="#000000" stroke-opacity="0.260" stroke-width="3.3" class="e"><path d="M686.0,310.0Q688.5,294.6 688.8,286.8"/><path d="M693.2,287.9L689.0,279.1L684.2,287.5Z" stroke-opacity="0.322" stroke-width="3.3" stroke-linejoin="round" fill="#000000" fill-opacity="0.13"/></g>
<g stroke="#000000" stroke-opacity="0.260" stroke-width="3.3" class="e"><path d="M686.0,310.0Q693.4,312.6 693.4,312.6"/><path d="M691.4,316.7L700.8,314.6L693.7,308.0Z" stroke-opacity="0.322" stroke-width="3.3" stroke-linejoin="round" fill="#000000" fill-opacity="0.13"/></g>
<g stroke="#000000" stroke-opacity="0.260" stroke-width="3.3" class="e"><path d="M686.0,310.0Q687.7,312.8 685.2,309.0"/><path d="M680.9,310.8L689.5,315.4L688.4,305.8Z" stroke-opacity="0.322" stroke-width="3.3" stroke-linejoin="round" fill="#000000" fill-opacity="0.13"/></g>
<g stroke="#000000" stroke-opacity="0.260" stroke-width="3.3" class="e"><path d="M686.0,310.0Q666.1,312.9 654.2,316.2"/><path d="M653.9,311.6L646.7,318.2L656.2,320.3Z" stroke-opacity="0.322" stroke-width="3.3" stroke-linejoin="round" fill="#000000" fill-opacity="0.13"/></g>
<g stroke="#000000" stroke-opacity="0.260" stroke-width="3.1" class="e"><path d="M644.0,290.0Q653.1,295.5 655.7,296.8"/><path d="M653.0,300.5L662.7,300.2L656.9,292.4Z" stroke-opacity="0.322" stroke-width="3.1" stroke-linejoin="round" fill="#000000" fill-opacity="0.13"/></g>
<g stroke="#555555" stroke-opacity="0.260" stroke-width="3.1" class="e"><path d="M654.4,225.2Q663.4,259.3 674.3,284.4"/><path d="M669.9,285.4L677.4,291.5L678.1,281.8Z" stroke-opacity="0.322" stroke-width="3.1" stroke-linejoin="round" fill="#555555" fill-opacity="0.13"/></g>
<g stroke="#555555" stroke-opacity="0.260" stroke-width="3.1" class="e"><path d="M654.4,225.2Q662.7,235.3 666.5,239.0"/><path d="M662.7,241.6L672.0,244.4L669.0,235.2Z" stroke-opacity="0.322" stroke-width="3.1" stroke-linejoin="round" fill="#555555" fill-opacity="0.13"/></g>
<g stroke="#ff9232" stroke-opacity="0.260" stroke-width="3.1" class="e"><path d="M689.0,259.6Q686.5,275.0 686.2,282.8"/><path d="M681.8,281.7L686.0,290.5L690.8,282.1Z" stroke-opacity="0.322" stroke-width="3.1" stroke-linejoin="round" fill="#ff9232" fill-opacity="0.13"/></g>
<g stroke="#ff9232" stroke-opacity="0.260" stroke-width="3.1" class="e"><path d="M689.0,259.6Q675.3,267.0 668.9,271.4"/><path d="M667.1,267.2L662.6,275.8L672.2,274.6Z" stroke-opacity="0.322" stroke-width="3.1" stroke-linejoin="round" fill="#ff9232" fill-opacity="0.13"/></g>
<g stroke="#ff9232" stroke-opacity="0.260" stroke-width="3.1" class="e"><path d="M689.0,259.6Q659.9,304.4 641.8,346.2"/><path d="M638.0,343.6L638.7,353.3L646.3,347.2Z" stroke-opacity="0.322" stroke-width="3.1" stroke-linejoin="round" fill="#ff9232" fill-opacity="0.13"/></g>
<g stroke="#27d1d4" stroke-opacity="0.260" stroke-width="3.1" class="e"><path d="M726.8,320.0Q719.4,317.4 719.4,317.4"/><path d="M721.4,313.3L712.0,315.4L719.1,322.0Z" stroke-opacity="0.322" stroke-width="3.1" stroke-linejoin="round" fill="#27d1d4" fill-opacity="0.13"/></g>
<g stroke="#27d1d4" stroke-opacity="0.260" stroke-width="3.1" class="e"><path d="M726.8,320.0Q737.0,279.7 740.0,246.2"/><path d="M744.4,247.4L740.7,238.5L735.4,246.6Z" stroke-opacity="0.322" stroke-width="3.1" stroke-linejoin="round" fill="#27d1d4" fill-opacity="0.13"/></g>
<g stroke="#27d1d4" stroke-opacity="0.260" stroke-width="3.1" class="e"><path d="M726.8,320.0Q664.0,257.9 597.9,212.2"/><path d="M601.2,209.0L591.5,207.8L596.1,216.4Z" stroke-opacity="0.322" stroke-width="3.1" stroke-linejoin="round" fill="#27d1d4" fill-opacity="0.13"/></g>
<g stroke="#27d1d4" stroke-opacity="0.260" stroke-width="3.1" class="e"><path d="M726.8,320.0Q704.0,348.7 689.8,373.7"/><path d="M686.3,370.7L686.0,380.4L694.1,375.2Z" stroke-opacity="0.322" stroke-width="3.1" stroke-linejoin="round" fill="#27d1d4" fill-opacity="0.13"/></g>
<g stroke="#27d1d4" stroke-opacity="0.260" stroke-width="3.1" class="e"><path d="M796.0,184.0Q742.5,234.2 703.2,286.6"/><path d="M700.2,283.2L698.6,292.8L707.4,288.6Z" stroke-opacity="0.322" stroke-width="3.1" stroke-linejoin="round" fill="#27d1d4" fill-opacity="0.13"/></g>
<g stroke="#ff9232" stroke-opacity="0.260" stroke-width="3.1" class="e"><path d="M702.8,332.4Q701.1,329.6 703.6,333.4"/><path d="M707.9,331.6L699.3,327.0L700.4,336.6Z" stroke-opacity="0.322" stroke-width="3.1" stroke-linejoin="round" fill="#ff9232" fill-opacity="0.13"/></g>
<g stroke="#ff9232" stroke-opacity="0.260" stroke-width="3.1" class="e"><path d="M702.8,332.4Q690.8,355.3 684.9,372.3"/><path d="M680.9,370.0L682.3,379.6L689.4,373.0Z" stroke-opacity="0.322" stroke-width="3.1" stroke-linejoin="round" fill="#ff9232" fill-opacity="0.13"/></g>
<g stroke="#ff9232" stroke-opacity="0.260" stroke-width="3.1" class="e"><path d="M702.8,332.4Q676.0,327.6 656.7,326.7"/><path d="M657.8,322.2L649.0,326.3L657.4,331.2Z" stroke-opacity="0.322" stroke-width="3.1" stroke-linejoin="round" fill="#ff9232" fill-opacity="0.13"/></g>
<g stroke="#ff9232" stroke-opacity="0.260" stroke-width="3.1" class="e"><path d="M702.8,332.4Q653.3,322.5 610.7,320.8"/><path d="M611.8,316.4L603.0,320.5L611.4,325.3Z" stroke-opacity="0.322" stroke-width="3.1" stroke-linejoin="round" fill="#ff9232" fill-opacity="0.13"/></g>
<g stroke="#ff9232" stroke-opacity="0.260" stroke-width="3.1" class="e"><path d="M702.8,332.4Q617.1,329.3 540.1,339.9"/><path d="M540.3,335.4L532.4,341.0L541.6,344.3Z" stroke-opacity="0.322" stroke-width="3.1" stroke-linejoin="round" fill="#ff9232" fill-opacity="0.13"/></g>
<g stroke="#ff9232" stroke-opacity="0.260" stroke-width="3.1" class="e"><path d="M702.8,332.4Q739.2,354.1 771.2,367.0"/><path d="M768.7,370.8L778.4,369.9L772.1,362.5Z" stroke-opacity="0.322" stroke-width="3.1" stroke-linejoin="round" fill="#ff9232" fill-opacity="0.13"/></g>
<g stroke="#ff9232" stroke-opacity="0.260" stroke-width="3.1" class="e"><path d="M702.8,332.4Q727.7,339.2 745.5,341.7"/><path d="M744.0,346.0L753.2,342.7L745.3,337.1Z" stroke-opacity="0.322" stroke-width="3.1" stroke-linejoin="round" fill="#ff9232" fill-opacity="0.13"/></g>
<g stroke="#1a6910" stroke-opacity="0.260" stroke-width="3.1" class="e"><path d="M622.0,326.0Q641.9,323.1 653.8,319.8"/><path d="M654.1,324.4L661.3,317.8L651.8,315.7Z" stroke-opacity="0.322" stroke-width="3.1" stroke-linejoin="round" fill="#1a6910" fill-opacity="0.13"/></g>
<g stroke="#1a6910" stroke-opacity="0.260" stroke-width="3.1" class="e"><path d="M622.0,326.0Q639.8,355.6 656.9,376.1"/><path d="M652.9,378.4L661.8,382.1L659.8,372.6Z" stroke-opacity="0.322" stroke-width="3.1" stroke-linejoin="round" fill="#1a6910" fill-opacity="0.13"/></g>
<g stroke="#1a6910" stroke-opacity="0.260" stroke-width="3.1" class="e"><path d="M622.0,326.0Q612.5,323.8 610.5,323.5"/><path d="M612.0,319.2L602.8,322.4L610.7,328.1Z" stroke-opacity="0.322" stroke-width="3.1" stroke-linejoin="round" fill="#1a6910" fill-opacity="0.13"/></g>
<g stroke="#1a6910" stroke-opacity="0.260" stroke-width="3.1" class="e"><path d="M622.0,326.0Q648.8,330.8 668.1,331.7"/><path d="M667.0,336.2L675.8,332.1L667.4,327.2Z" stroke-opacity="0.322" stroke-width="3.1" stroke-linejoin="round" fill="#1a6910" fill-opacity="0.13"/></g>
<g stroke="#27d1d4" stroke-opacity="0.260" stroke-width="3.1" class="e"><path d="M576.0,320.0Q613.5,356.0 649.9,381.0"/><path d="M646.6,384.3L656.3,385.4L651.7,376.9Z" stroke-opacity="0.322" stroke-width="3.1" stroke-linejoin="round" fill="#27d1d4" fill-opacity="0.13"/></g>
<g stroke="#27d1d4" stroke-opacity="0.260" stroke-width="3.1" class="e"><path d="M576.0,320.0Q585.5,322.2 587.5,322.5"/><path d="M586.0,326.8L595.2,323.6L587.3,317.9Z" stroke-opacity="0.322" stroke-width="3.1" stroke-linejoin="round" fill="#27d1d4" fill-opacity="0.13"/></g>
<g stroke="#27d1d4" stroke-opacity="0.260" stroke-width="3.1" class="e"><path d="M631.0,372.0Q642.3,380.2 647.6,383.3"/><path d="M644.6,386.8L654.3,387.2L649.1,379.0Z" stroke-opacity="0.322" stroke-width="3.1" stroke-linejoin="round" fill="#27d1d4" fill-opacity="0.13"/></g>
<g stroke="#27d1d4" stroke-opacity="0.260" stroke-width="3.1" class="e"><path d="M631.0,372.0Q660.1,327.2 678.2,285.4"/><path d="M682.0,288.0L681.3,278.3L673.7,284.4Z" stroke-opacity="0.322" stroke-width="3.1" stroke-linejoin="round" fill="#27d1d4" fill-opacity="0.13"/></g>
<g stroke="#27d1d4" stroke-opacity="0.260" stroke-width="3.1" class="e"><path d="M631.0,372.0Q653.7,351.1 668.1,333.1"/><path d="M671.1,336.6L673.0,327.1L664.1,331.0Z" stroke-opacity="0.322" stroke-width="3.1" stroke-linejoin="round" fill="#27d1d4" fill-opacity="0.13"/></g>
<g stroke="#27d1d4" stroke-opacity="0.260" stroke-width="3.1" class="e"><path d="M631.0,372.0Q637.5,385.7 641.4,392.0"/><path d="M637.1,393.6L645.5,398.5L644.8,388.8Z" stroke-opacity="0.322" stroke-width="3.1" stroke-linejoin="round" fill="#27d1d4" fill-opacity="0.13"/></g>
<g stroke="#27d1d4" stroke-opacity="0.260" stroke-width="3.1" class="e"><path d="M657.5,416.0Q658.7,415.1 653.8,419.0"/><path d="M656.0,423.0L659.9,414.1L650.4,416.0Z" stroke-opacity="0.322" stroke-width="3.1" stroke-linejoin="round" fill="#27d1d4" fill-opacity="0.13"/></g>
<g stroke="#27d1d4" stroke-opacity="0.260" stroke-width="3.1" class="e"><path d="M657.5,416.0Q651.0,402.3 647.1,396.0"/><path d="M651.4,394.4L643.0,389.5L643.7,399.2Z" stroke-opacity="0.322" stroke-width="3.1" stroke-linejoin="round" fill="#27d1d4" fill-opacity="0.13"/></g>
<g stroke="#27d1d4" stroke-opacity="0.260" stroke-width="3.1" class="e"><path d="M657.5,416.0Q661.5,425.5 662.7,427.7"/><path d="M658.4,429.1L666.4,434.5L666.3,424.8Z" stroke-opacity="0.322" stroke-width="3.1" stroke-linejoin="round" fill="#27d1d4" fill-opacity="0.13"/></g>
<g stroke="#27d1d4" stroke-opacity="0.260" stroke-width="3.1" class="e"><path d="M657.5,416.0Q641.0,438.2 631.7,455.6"/><path d="M628.1,452.8L628.0,462.5L636.0,457.0Z" stroke-opacity="0.322" stroke-width="3.1" stroke-linejoin="round" fill="#27d1d4" fill-opacity="0.13"/></g>
<g stroke="#27d1d4" stroke-opacity="0.260" stroke-width="3.1" class="e"><path d="M657.5,416.0Q673.6,373.6 680.9,336.9"/><path d="M685.2,338.7L682.5,329.3L676.4,336.9Z" stroke-opacity="0.322" stroke-width="3.1" stroke-linejoin="round" fill="#27d1d4" fill-opacity="0.13"/></g>
<g stroke="#27d1d4" stroke-opacity="0.260" stroke-width="3.1" class="e"><path d="M630.0,401.0Q639.7,401.5 641.7,401.4"/><path d="M641.0,405.9L649.4,401.1L640.7,396.9Z" stroke-opacity="0.322" stroke-width="3.1" stroke-linejoin="round" fill="#27d1d4" fill-opacity="0.13"/></g>
<g stroke="#2645d8" stroke-opacity="0.260" stroke-width="3.1" class="e"><path d="M828.0,268.0Q797.7,246.4 771.5,233.2"/><path d="M774.3,229.6L764.6,229.7L770.2,237.6Z" stroke-opacity="0.322" stroke-width="3.1" stroke-linejoin="round" fill="#2645d8" fill-opacity="0.13"/></g>
<g stroke="#2645d8" stroke-opacity="0.260" stroke-width="3.1" class="e"><path d="M828.0,268.0Q881.1,225.0 920.8,179.5"/><path d="M923.6,183.1L925.9,173.6L916.8,177.1Z" stroke-opacity="0.322" stroke-width="3.1" stroke-linejoin="round" fill="#2645d8" fill-opacity="0.13"/></g>
<g stroke="#2645d8" stroke-opacity="0.260" stroke-width="3.1" class="e"><path d="M828.0,268.0Q910.4,240.4 979.9,202.6"/><path d="M981.3,207.0L986.7,198.9L977.0,199.1Z" stroke-opacity="0.322" stroke-width="3.1" stroke-linejoin="round" fill="#2645d8" fill-opacity="0.13"/></g>
<g stroke="#2645d8" stroke-opacity="0.260" stroke-width="3.1" class="e"><path d="M828.0,268.0Q902.5,261.7 967.3,244.9"/><path d="M967.6,249.5L974.8,243.0L965.3,240.8Z" stroke-opacity="0.322" stroke-width="3.1" stroke-linejoin="round" fill="#2645d8" fill-opacity="0.13"/></g>
<g stroke="#2645d8" stroke-opacity="0.260" stroke-width="3.1" class="e"><path d="M828.0,268.0Q912.8,274.3 989.6,266.7"/><path d="M989.2,271.3L997.3,266.0L988.3,262.4Z" stroke-opacity="0.322" stroke-width="3.1" stroke-linejoin="round" fill="#2645d8" fill-opacity="0.13"/></g>
<g stroke="#2645d8" stroke-opacity="0.260" stroke-width="3.1" class="e"><path d="M828.0,268.0Q893.2,278.7 951.3,278.6"/><path d="M950.4,283.1L959.0,278.5L950.4,274.1Z" stroke-opacity="0.322" stroke-width="3.1" stroke-linejoin="round" fill="#2645d8" fill-opacity="0.13"/></g>
<g stroke="#2645d8" stroke-opacity="0.260" stroke-width="3.1" class="e"><path d="M828.0,268.0Q861.6,285.5 889.9,295.2"/><path d="M887.7,299.2L897.3,297.7L890.6,290.7Z" stroke-opacity="0.322" stroke-width="3.1" stroke-linejoin="round" fill="#2645d8" fill-opacity="0.13"/></g>
<g stroke="#2645d8" stroke-opacity="0.260" stroke-width="3.1" class="e"><path d="M828.0,268.0Q864.7,298.2 898.9,318.2"/><path d="M895.9,321.6L905.6,322.1L900.5,313.9Z" stroke-opacity="0.322" stroke-width="3.1" stroke-linejoin="round" fill="#2645d8" fill-opacity="0.13"/></g>
<g stroke="#2645d8" stroke-opacity="0.260" stroke-width="3.1" class="e"><path d="M828.0,268.0Q819.2,317.7 818.8,360.4"/><path d="M814.3,359.5L818.8,368.1L823.3,359.5Z" stroke-opacity="0.322" stroke-width="3.1" stroke-linejoin="round" fill="#2645d8" fill-opacity="0.13"/></g>
<g stroke="#2645d8" stroke-opacity="0.260" stroke-width="3.1" class="e"><path d="M828.0,268.0Q767.5,279.5 717.0,298.1"/><path d="M716.3,293.6L709.8,300.8L719.4,302.0Z" stroke-opacity="0.322" stroke-width="3.1" stroke-linejoin="round" fill="#2645d8" fill-opacity="0.13"/></g>
<g stroke="#2645d8" stroke-opacity="0.260" stroke-width="3.1" class="e"><path d="M828.0,268.0Q748.2,269.5 677.6,283.2"/><path d="M677.5,278.6L670.0,284.6L679.2,287.4Z" stroke-opacity="0.322" stroke-width="3.1" stroke-linejoin="round" fill="#2645d8" fill-opacity="0.13"/></g>
<g stroke="#2645d8" stroke-opacity="0.260" stroke-width="3.1" class="e"><path d="M828.0,268.0Q813.3,269.5 806.5,270.9"/><path d="M806.4,266.3L798.9,272.5L808.3,275.1Z" stroke-opacity="0.322" stroke-width="3.1" stroke-linejoin="round" fill="#2645d8" fill-opacity="0.13"/></g>
<g stroke="#2645d8" stroke-opacity="0.260" stroke-width="3.1" class="e"><path d="M922.0,305.5Q943.5,298.7 956.9,292.5"/><path d="M958.0,296.9L963.9,289.2L954.2,288.8Z" stroke-opacity="0.322" stroke-width="3.1" stroke-linejoin="round" fill="#2645d8" fill-opacity="0.13"/></g>
<g stroke="#2645d8" stroke-opacity="0.260" stroke-width="3.1" class="e"><path d="M922.0,305.5Q963.3,293.0 995.0,277.6"/><path d="M996.2,282.1L1002.0,274.3L992.3,274.0Z" stroke-opacity="0.322" stroke-width="3.1" stroke-linejoin="round" fill="#2645d8" fill-opacity="0.13"/></g>
<g stroke="#2645d8" stroke-opacity="0.260" stroke-width="3.1" class="e"><path d="M922.0,305.5Q1005.7,318.0 1082.3,316.2"/><path d="M1081.5,320.7L1090.0,316.0L1081.3,311.7Z" stroke-opacity="0.322" stroke-width="3.1" stroke-linejoin="round" fill="#2645d8" fill-opacity="0.13"/></g>
<g stroke="#2645d8" stroke-opacity="0.260" stroke-width="3.1" class="e"><path d="M922.0,305.5Q817.2,297.0 720.4,306.4"/><path d="M720.8,301.8L712.7,307.1L721.7,310.8Z" stroke-opacity="0.322" stroke-width="3.1" stroke-linejoin="round" fill="#2645d8" fill-opacity="0.13"/></g>
<g stroke="#2645d8" stroke-opacity="0.260" stroke-width="3.1" class="e"><path d="M922.0,305.5Q875.8,335.3 841.1,366.9"/><path d="M838.7,363.0L835.3,372.1L844.7,369.7Z" stroke-opacity="0.322" stroke-width="3.1" stroke-linejoin="round" fill="#2645d8" fill-opacity="0.13"/></g>
<g stroke="#2645d8" stroke-opacity="0.260" stroke-width="3.1" class="e"><path d="M922.0,305.5Q922.3,310.1 921.9,307.1"/><path d="M917.3,306.8L923.0,314.7L926.3,305.6Z" stroke-opacity="0.322" stroke-width="3.1" stroke-linejoin="round" fill="#2645d8" fill-opacity="0.13"/></g>
<g stroke="#2645d8" stroke-opacity="0.260" stroke-width="3.1" class="e"><path d="M927.0,334.0Q950.6,315.7 965.8,299.9"/><path d="M968.4,303.6L971.2,294.3L962.0,297.4Z" stroke-opacity="0.322" stroke-width="3.1" stroke-linejoin="round" fill="#2645d8" fill-opacity="0.13"/></g>
<g stroke="#2645d8" stroke-opacity="0.260" stroke-width="3.1" class="e"><path d="M927.0,334.0Q926.7,329.4 927.1,332.4"/><path d="M931.7,332.7L926.0,324.8L922.7,333.9Z" stroke-opacity="0.322" stroke-width="3.1" stroke-linejoin="round" fill="#2645d8" fill-opacity="0.13"/></g>
<g stroke="#2645d8" stroke-opacity="0.260" stroke-width="3.1" class="e"><path d="M986.0,278.0Q964.5,284.8 951.1,291.0"/><path d="M950.0,286.6L944.1,294.3L953.8,294.7Z" stroke-opacity="0.322" stroke-width="3.1" stroke-linejoin="round" fill="#2645d8" fill-opacity="0.13"/></g>
<g stroke="#2645d8" stroke-opacity="0.260" stroke-width="3.1" class="e"><path d="M986.0,278.0Q993.6,275.9 993.7,275.8"/><path d="M994.4,280.3L1000.9,273.1L991.3,271.9Z" stroke-opacity="0.322" stroke-width="3.1" stroke-linejoin="round" fill="#2645d8" fill-opacity="0.13"/></g>
<g stroke="#2645d8" stroke-opacity="0.260" stroke-width="3.1" class="e"><path d="M986.0,278.0Q962.4,296.3 947.2,312.1"/><path d="M944.6,308.4L941.8,317.7L951.0,314.6Z" stroke-opacity="0.322" stroke-width="3.1" stroke-linejoin="round" fill="#2645d8" fill-opacity="0.13"/></g>
<g stroke="#555555" stroke-opacity="0.260" stroke-width="3.1" class="e"><path d="M915.0,243.4Q928.1,210.6 934.3,183.8"/><path d="M938.5,185.7L936.0,176.3L929.7,183.7Z" stroke-opacity="0.322" stroke-width="3.1" stroke-linejoin="round" fill="#555555" fill-opacity="0.13"/></g>
<g stroke="#555555" stroke-opacity="0.260" stroke-width="3.1" class="e"><path d="M915.0,243.4Q882.9,249.1 859.5,256.8"/><path d="M858.9,252.3L852.1,259.3L861.7,260.8Z" stroke-opacity="0.322" stroke-width="3.1" stroke-linejoin="round" fill="#555555" fill-opacity="0.13"/></g>
<g stroke="#555555" stroke-opacity="0.260" stroke-width="3.1" class="e"><path d="M915.0,243.4Q937.9,257.6 955.4,265.3"/><path d="M952.8,269.1L962.5,268.4L956.4,260.8Z" stroke-opacity="0.322" stroke-width="3.1" stroke-linejoin="round" fill="#555555" fill-opacity="0.13"/></g>
<g stroke="#555555" stroke-opacity="0.260" stroke-width="3.1" class="e"><path d="M915.0,243.4Q955.6,255.0 989.6,259.3"/><path d="M988.2,263.6L997.3,260.3L989.3,254.7Z" stroke-opacity="0.322" stroke-width="3.1" stroke-linejoin="round" fill="#555555" fill-opacity="0.13"/></g>
<g stroke="#7b1fc2" stroke-opacity="0.260" stroke-width="3.1" class="e"><path d="M907.0,67.0Q839.6,75.5 782.1,92.9"/><path d="M781.6,88.3L774.7,95.1L784.2,96.9Z" stroke-opacity="0.322" stroke-width="3.1" stroke-linejoin="round" fill="#7b1fc2" fill-opacity="0.13"/></g>
<g stroke="#7b1fc2" stroke-opacity="0.260" stroke-width="3.1" class="e"><path d="M907.0,67.0Q916.5,103.8 928.4,131.4"/><path d="M924.0,132.4L931.5,138.5L932.2,128.8Z" stroke-opacity="0.322" stroke-width="3.1" stroke-linejoin="round" fill="#7b1fc2" fill-opacity="0.13"/></g>
<g stroke="#95a5f6" stroke-opacity="0.260" stroke-width="3.1" class="e"><path d="M807.0,138.0Q837.4,93.5 856.6,51.6"/><path d="M860.3,54.3L859.8,44.6L852.1,50.5Z" stroke-opacity="0.322" stroke-width="3.1" stroke-linejoin="round" fill="#95a5f6" fill-opacity="0.13"/></g>
<g stroke="#95a5f6" stroke-opacity="0.260" stroke-width="3.1" class="e"><path d="M807.0,138.0Q744.7,210.1 700.3,285.3"/><path d="M696.9,282.3L696.4,292.0L704.6,286.9Z" stroke-opacity="0.322" stroke-width="3.1" stroke-linejoin="round" fill="#95a5f6" fill-opacity="0.13"/></g>
<g stroke="#95a5f6" stroke-opacity="0.260" stroke-width="3.1" class="e"><path d="M807.0,138.0Q726.7,199.2 663.9,267.9"/><path d="M661.1,264.2L658.7,273.6L667.8,270.3Z" stroke-opacity="0.322" stroke-width="3.1" stroke-linejoin="round" fill="#95a5f6" fill-opacity="0.13"/></g>
<g stroke="#95a5f6" stroke-opacity="0.260" stroke-width="3.1" class="e"><path d="M831.0,224.0Q764.9,254.8 711.5,291.9"/><path d="M709.7,287.7L705.2,296.3L714.8,295.1Z" stroke-opacity="0.322" stroke-width="3.1" stroke-linejoin="round" fill="#95a5f6" fill-opacity="0.13"/></g>
<g stroke="#27d1d4" stroke-opacity="0.260" stroke-width="3.1" class="e"><path d="M1135.0,284.0Q1093.5,271.8 1058.4,267.0"/><path d="M1059.8,262.7L1050.7,266.0L1058.6,271.6Z" stroke-opacity="0.322" stroke-width="3.1" stroke-linejoin="round" fill="#27d1d4" fill-opacity="0.13"/></g>
<g stroke="#27d1d4" stroke-opacity="0.260" stroke-width="3.1" class="e"><path d="M1135.0,284.0Q1041.3,296.8 958.9,323.4"/><path d="M958.3,318.9L951.5,325.8L961.1,327.4Z" stroke-opacity="0.322" stroke-width="3.1" stroke-linejoin="round" fill="#27d1d4" fill-opacity="0.13"/></g>
<g stroke="#fbc1f4" stroke-opacity="0.260" stroke-width="3.1" class="e"><path d="M1270.0,267.0Q1214.9,268.4 1168.5,277.2"/><path d="M1168.6,272.6L1160.9,278.6L1170.2,281.4Z" stroke-opacity="0.322" stroke-width="3.1" stroke-linejoin="round" fill="#fbc1f4" fill-opacity="0.13"/></g>
<g stroke="#555555" stroke-opacity="0.260" stroke-width="3.1" class="e"><path d="M1081.0,126.0Q1068.2,116.1 1061.1,111.8"/><path d="M1064.2,108.4L1054.5,107.8L1059.5,116.1Z" stroke-opacity="0.322" stroke-width="3.1" stroke-linejoin="round" fill="#555555" fill-opacity="0.13"/></g>
<g stroke="#1a6910" stroke-opacity="0.260" stroke-width="3.1" class="e"><path d="M1224.0,566.0Q1190.6,545.5 1161.8,533.4"/><path d="M1164.4,529.5L1154.7,530.3L1160.9,537.8Z" stroke-opacity="0.322" stroke-width="3.1" stroke-linejoin="round" fill="#1a6910" fill-opacity="0.13"/></g>
<g stroke="#1a6910" stroke-opacity="0.260" stroke-width="3.1" class="e"><path d="M954.0,440.0Q1034.8,449.6 1108.3,450.7"/><path d="M1107.3,455.2L1116.0,450.8L1107.5,446.2Z" stroke-opacity="0.322" stroke-width="3.1" stroke-linejoin="round" fill="#1a6910" fill-opacity="0.13"/></g>
<g stroke="#1a6910" stroke-opacity="0.260" stroke-width="3.1" class="e"><path d="M954.0,440.0Q1020.5,466.4 1083.0,477.5"/><path d="M1081.4,481.7L1090.6,478.8L1082.9,472.9Z" stroke-opacity="0.322" stroke-width="3.1" stroke-linejoin="round" fill="#1a6910" fill-opacity="0.13"/></g>
<g stroke="#1a6910" stroke-opacity="0.260" stroke-width="3.1" class="e"><path d="M954.0,440.0Q1026.6,484.4 1099.2,510.2"/><path d="M1096.9,514.1L1106.5,512.7L1099.9,505.6Z" stroke-opacity="0.322" stroke-width="3.1" stroke-linejoin="round" fill="#1a6910" fill-opacity="0.13"/></g>
<g stroke="#1a6910" stroke-opacity="0.260" stroke-width="3.1" class="e"><path d="M954.0,440.0Q997.6,482.5 1042.0,511.1"/><path d="M1038.8,514.4L1048.5,515.3L1043.7,506.9Z" stroke-opacity="0.322" stroke-width="3.1" stroke-linejoin="round" fill="#1a6910" fill-opacity="0.13"/></g>
<g stroke="#1a6910" stroke-opacity="0.260" stroke-width="3.1" class="e"><path d="M802.3,378.9Q901.6,389.3 993.4,382.0"/><path d="M992.9,386.6L1001.1,381.4L992.1,377.6Z" stroke-opacity="0.322" stroke-width="3.1" stroke-linejoin="round" fill="#1a6910" fill-opacity="0.13"/></g>
<g stroke="#1a6910" stroke-opacity="0.260" stroke-width="3.1" class="e"><path d="M802.3,378.9Q891.8,405.5 976.6,415.4"/><path d="M975.2,419.7L984.3,416.2L976.2,410.8Z" stroke-opacity="0.322" stroke-width="3.1" stroke-linejoin="round" fill="#1a6910" fill-opacity="0.13"/></g>
<g stroke="#1a6910" stroke-opacity="0.260" stroke-width="3.1" class="e"><path d="M802.3,378.9Q863.6,411.0 921.8,430.0"/><path d="M919.6,434.0L929.2,432.3L922.4,425.4Z" stroke-opacity="0.322" stroke-width="3.1" stroke-linejoin="round" fill="#1a6910" fill-opacity="0.13"/></g>
<g stroke="#1a6910" stroke-opacity="0.260" stroke-width="3.1" class="e"><path d="M802.3,378.9Q746.9,404.4 703.1,434.3"/><path d="M701.3,430.1L696.7,438.7L706.3,437.5Z" stroke-opacity="0.322" stroke-width="3.1" stroke-linejoin="round" fill="#1a6910" fill-opacity="0.13"/></g>
<g stroke="#1a6910" stroke-opacity="0.260" stroke-width="3.1" class="e"><path d="M802.3,378.9Q751.4,381.7 709.4,390.8"/><path d="M709.3,386.3L701.8,392.5L711.2,395.1Z" stroke-opacity="0.322" stroke-width="3.1" stroke-linejoin="round" fill="#1a6910" fill-opacity="0.13"/></g>
<g stroke="#1a6910" stroke-opacity="0.260" stroke-width="3.1" class="e"><path d="M802.3,378.9Q657.8,407.3 528.2,458.6"/><path d="M527.4,454.1L521.0,461.5L530.7,462.5Z" stroke-opacity="0.322" stroke-width="3.1" stroke-linejoin="round" fill="#1a6910" fill-opacity="0.13"/></g>
<g stroke="#1a6910" stroke-opacity="0.260" stroke-width="3.1" class="e"><path d="M802.3,378.9Q854.7,365.7 897.0,347.5"/><path d="M898.0,351.9L904.1,344.4L894.5,343.7Z" stroke-opacity="0.322" stroke-width="3.1" stroke-linejoin="round" fill="#1a6910" fill-opacity="0.13"/></g>
<g stroke="#1a6910" stroke-opacity="0.260" stroke-width="3.1" class="e"><path d="M802.3,378.9Q826.5,390.9 844.7,397.0"/><path d="M842.5,401.0L852.1,399.5L845.4,392.5Z" stroke-opacity="0.322" stroke-width="3.1" stroke-linejoin="round" fill="#1a6910" fill-opacity="0.13"/></g>
<g stroke="#1a6910" stroke-opacity="0.260" stroke-width="3.1" class="e"><path d="M802.3,378.9Q825.8,399.5 845.5,412.2"/><path d="M842.3,415.5L852.0,416.4L847.2,408.0Z" stroke-opacity="0.322" stroke-width="3.1" stroke-linejoin="round" fill="#1a6910" fill-opacity="0.13"/></g>
<g stroke="#1a6910" stroke-opacity="0.260" stroke-width="3.1" class="e"><path d="M802.3,378.9Q818.5,407.5 833.9,427.2"/><path d="M829.8,429.3L838.7,433.2L836.9,423.7Z" stroke-opacity="0.322" stroke-width="3.1" stroke-linejoin="round" fill="#1a6910" fill-opacity="0.13"/></g>
<g stroke="#1a6910" stroke-opacity="0.260" stroke-width="3.1" class="e"><path d="M802.3,378.9Q798.0,402.9 797.4,419.5"/><path d="M792.9,418.4L797.1,427.2L801.9,418.8Z" stroke-opacity="0.322" stroke-width="3.1" stroke-linejoin="round" fill="#1a6910" fill-opacity="0.13"/></g>

<g stroke="#1a6910" stroke-opacity="0.260" stroke-width="3.1" class="e"><path d="M802.3,378.9Q807.9,372.1 808.4,371.3"/><path d="M811.7,374.5L812.8,364.9L804.2,369.5Z" stroke-opacity="0.322" stroke-width="3.1" stroke-linejoin="round" fill="#1a6910" fill-opacity="0.13"/></g>
<g stroke="#1a6910" stroke-opacity="0.260" stroke-width="3.1" class="e"><path d="M802.3,378.9Q797.8,370.6 796.9,369.1"/><path d="M801.1,367.4L792.6,362.7L793.6,372.3Z" stroke-opacity="0.322" stroke-width="3.1" stroke-linejoin="round" fill="#1a6910" fill-opacity="0.13"/></g>
<g stroke="#1a6910" stroke-opacity="0.260" stroke-width="3.1" class="e"><path d="M802.3,378.9Q791.6,380.1 788.6,380.7"/><path d="M788.6,376.2L781.1,382.3L790.4,385.0Z" stroke-opacity="0.322" stroke-width="3.1" stroke-linejoin="round" fill="#1a6910" fill-opacity="0.13"/></g>
<g stroke="#1a6910" stroke-opacity="0.260" stroke-width="3.1" class="e"><path d="M802.3,378.9Q765.7,379.3 737.3,383.9"/><path d="M737.4,379.3L729.6,385.1L738.8,388.2Z" stroke-opacity="0.322" stroke-width="3.1" stroke-linejoin="round" fill="#1a6910" fill-opacity="0.13"/></g>
<g stroke="#1a6910" stroke-opacity="0.260" stroke-width="3.1" class="e"><path d="M802.3,378.9Q757.6,346.0 715.3,324.4"/><path d="M718.1,320.8L708.4,320.9L714.0,328.8Z" stroke-opacity="0.322" stroke-width="3.1" stroke-linejoin="round" fill="#1a6910" fill-opacity="0.13"/></g>
<g stroke="#1a6910" stroke-opacity="0.260" stroke-width="3.1" class="e"><path d="M802.3,378.9Q765.9,357.2 733.9,344.3"/><path d="M736.4,340.5L726.7,341.4L733.0,348.8Z" stroke-opacity="0.322" stroke-width="3.1" stroke-linejoin="round" fill="#1a6910" fill-opacity="0.13"/></g>
<g stroke="#ff9232" stroke-opacity="0.260" stroke-width="3.1" class="e"><path d="M823.5,347.0Q817.9,353.8 817.4,354.6"/><path d="M814.1,351.4L813.0,361.0L821.6,356.4Z" stroke-opacity="0.322" stroke-width="3.1" stroke-linejoin="round" fill="#ff9232" fill-opacity="0.13"/></g>
<g stroke="#ff9232" stroke-opacity="0.260" stroke-width="3.1" class="e"><path d="M823.5,347.0Q862.6,346.0 893.4,340.6"/><path d="M893.3,345.2L901.0,339.3L891.7,336.3Z" stroke-opacity="0.322" stroke-width="3.1" stroke-linejoin="round" fill="#ff9232" fill-opacity="0.13"/></g>
<g stroke="#ff9232" stroke-opacity="0.260" stroke-width="3.1" class="e"><path d="M823.5,347.0Q759.5,362.5 706.3,385.3"/><path d="M705.3,380.8L699.2,388.3L708.8,389.1Z" stroke-opacity="0.322" stroke-width="3.1" stroke-linejoin="round" fill="#ff9232" fill-opacity="0.13"/></g>

<g stroke="#555555" stroke-opacity="0.260" stroke-width="3.1" class="e"><path d="M818.9,387.6Q760.4,386.3 710.2,393.3"/><path d="M710.5,388.7L702.6,394.4L711.7,397.7Z" stroke-opacity="0.322" stroke-width="3.1" stroke-linejoin="round" fill="#555555" fill-opacity="0.13"/></g>
<g stroke="#ff9232" stroke-opacity="0.260" stroke-width="3.2" class="e"><path d="M676.2,398.6Q733.9,458.7 795.3,502.6"/><path d="M792.0,505.8L801.6,507.1L797.2,498.4Z" stroke-opacity="0.322" stroke-width="3.2" stroke-linejoin="round" fill="#ff9232" fill-opacity="0.13"/></g>
<g stroke="#ff9232" stroke-opacity="0.260" stroke-width="3.2" class="e"><path d="M676.2,398.6Q752.4,445.2 828.4,474.4"/><path d="M826.0,478.3L835.6,477.2L829.2,469.9Z" stroke-opacity="0.322" stroke-width="3.2" stroke-linejoin="round" fill="#ff9232" fill-opacity="0.13"/></g>
<g stroke="#ff9232" stroke-opacity="0.260" stroke-width="3.2" class="e"><path d="M676.2,398.6Q650.8,455.6 637.1,508.4"/><path d="M633.0,506.5L635.2,515.9L641.7,508.7Z" stroke-opacity="0.322" stroke-width="3.2" stroke-linejoin="round" fill="#ff9232" fill-opacity="0.13"/></g>
<g stroke="#ff9232" stroke-opacity="0.260" stroke-width="3.2" class="e"><path d="M676.2,398.6Q667.3,459.2 668.4,512.6"/><path d="M663.9,511.8L668.6,520.3L672.9,511.6Z" stroke-opacity="0.322" stroke-width="3.2" stroke-linejoin="round" fill="#ff9232" fill-opacity="0.13"/></g>
<g stroke="#ff9232" stroke-opacity="0.260" stroke-width="3.2" class="e"><path d="M676.2,398.6Q642.4,390.6 615.6,388.3"/><path d="M616.9,383.9L607.9,387.6L616.1,392.8Z" stroke-opacity="0.322" stroke-width="3.2" stroke-linejoin="round" fill="#ff9232" fill-opacity="0.13"/></g>
<g stroke="#ff9232" stroke-opacity="0.260" stroke-width="3.2" class="e"><path d="M676.2,398.6Q634.0,406.2 600.9,417.6"/><path d="M600.3,413.0L593.6,420.1L603.2,421.6Z" stroke-opacity="0.322" stroke-width="3.2" stroke-linejoin="round" fill="#ff9232" fill-opacity="0.13"/></g>
<g stroke="#ff9232" stroke-opacity="0.260" stroke-width="3.2" class="e"><path d="M676.2,398.6Q610.7,407.2 555.0,424.2"/><path d="M554.5,419.7L547.6,426.5L557.2,428.3Z" stroke-opacity="0.322" stroke-width="3.2" stroke-linejoin="round" fill="#ff9232" fill-opacity="0.13"/></g>
<g stroke="#ff9232" stroke-opacity="0.260" stroke-width="3.2" class="e"><path d="M676.2,398.6Q595.1,422.4 526.5,456.3"/><path d="M525.3,451.9L519.5,459.7L529.3,460.0Z" stroke-opacity="0.322" stroke-width="3.2" stroke-linejoin="round" fill="#ff9232" fill-opacity="0.13"/></g>
<g stroke="#ff9232" stroke-opacity="0.260" stroke-width="3.2" class="e"><path d="M676.2,398.6Q674.9,415.7 675.3,425.1"/><path d="M670.8,424.5L675.7,432.8L679.8,424.0Z" stroke-opacity="0.322" stroke-width="3.2" stroke-linejoin="round" fill="#ff9232" fill-opacity="0.13"/></g>
<g stroke="#ff9232" stroke-opacity="0.260" stroke-width="3.2" class="e"><path d="M676.2,398.6Q650.2,428.9 633.4,456.3"/><path d="M630.0,453.2L629.3,462.8L637.7,457.9Z" stroke-opacity="0.322" stroke-width="3.2" stroke-linejoin="round" fill="#ff9232" fill-opacity="0.13"/></g>
<g stroke="#ff9232" stroke-opacity="0.260" stroke-width="3.2" class="e"><path d="M676.2,398.6Q618.1,430.7 572.5,467.3"/><path d="M570.4,463.2L566.5,472.1L576.0,470.3Z" stroke-opacity="0.322" stroke-width="3.2" stroke-linejoin="round" fill="#ff9232" fill-opacity="0.13"/></g>
<g stroke="#ff9232" stroke-opacity="0.260" stroke-width="3.2" class="e"><path d="M676.2,398.6Q626.9,440.8 590.5,484.7"/><path d="M587.6,481.1L585.6,490.6L594.5,486.9Z" stroke-opacity="0.322" stroke-width="3.2" stroke-linejoin="round" fill="#ff9232" fill-opacity="0.13"/></g>
<g stroke="#ff9232" stroke-opacity="0.260" stroke-width="3.2" class="e"><path d="M676.2,398.6Q686.4,461.2 704.6,513.6"/><path d="M700.1,514.3L707.2,520.9L708.6,511.3Z" stroke-opacity="0.322" stroke-width="3.2" stroke-linejoin="round" fill="#ff9232" fill-opacity="0.13"/></g>
<g stroke="#ff9232" stroke-opacity="0.260" stroke-width="3.2" class="e"><path d="M676.2,398.6Q712.4,476.3 757.1,540.0"/><path d="M752.9,541.8L761.5,546.3L760.3,536.7Z" stroke-opacity="0.322" stroke-width="3.2" stroke-linejoin="round" fill="#ff9232" fill-opacity="0.13"/></g>
<g stroke="#ff9232" stroke-opacity="0.260" stroke-width="3.2" class="e"><path d="M676.2,398.6Q707.6,455.3 743.3,499.6"/><path d="M739.2,501.8L748.1,505.7L746.3,496.1Z" stroke-opacity="0.322" stroke-width="3.2" stroke-linejoin="round" fill="#ff9232" fill-opacity="0.13"/></g>
<g stroke="#ff9232" stroke-opacity="0.260" stroke-width="3.2" class="e"><path d="M676.2,398.6Q708.6,445.7 742.8,481.0"/><path d="M739.0,483.5L748.2,486.6L745.4,477.3Z" stroke-opacity="0.322" stroke-width="3.2" stroke-linejoin="round" fill="#ff9232" fill-opacity="0.13"/></g>
<g stroke="#ff9232" stroke-opacity="0.260" stroke-width="3.2" class="e"><path d="M676.2,398.6Q727.9,441.3 779.3,470.7"/><path d="M776.3,474.2L786.0,474.5L780.7,466.4Z" stroke-opacity="0.322" stroke-width="3.2" stroke-linejoin="round" fill="#ff9232" fill-opacity="0.13"/></g>
<g stroke="#ff9232" stroke-opacity="0.260" stroke-width="3.2" class="e"><path d="M676.2,398.6Q722.6,422.7 764.8,436.6"/><path d="M762.6,440.6L772.2,439.0L765.4,432.1Z" stroke-opacity="0.322" stroke-width="3.2" stroke-linejoin="round" fill="#ff9232" fill-opacity="0.13"/></g>
<g stroke="#ff9232" stroke-opacity="0.260" stroke-width="3.2" class="e"><path d="M676.2,398.6Q749.5,428.1 818.9,443.1"/><path d="M817.1,447.4L826.5,444.8L819.0,438.6Z" stroke-opacity="0.322" stroke-width="3.2" stroke-linejoin="round" fill="#ff9232" fill-opacity="0.13"/></g>
<g stroke="#ff9232" stroke-opacity="0.260" stroke-width="3.2" class="e"><path d="M676.2,398.6Q759.8,420.2 838.0,426.6"/><path d="M836.8,431.0L845.7,427.2L837.5,422.0Z" stroke-opacity="0.322" stroke-width="3.2" stroke-linejoin="round" fill="#ff9232" fill-opacity="0.13"/></g>
<g stroke="#ff9232" stroke-opacity="0.260" stroke-width="3.2" class="e"><path d="M676.2,398.6Q762.8,410.9 842.3,408.4"/><path d="M841.6,413.0L850.1,408.2L841.3,404.0Z" stroke-opacity="0.322" stroke-width="3.2" stroke-linejoin="round" fill="#ff9232" fill-opacity="0.13"/></g>
<g stroke="#ff9232" stroke-opacity="0.260" stroke-width="3.2" class="e"><path d="M676.2,398.6Q703.1,398.0 721.9,395.1"/><path d="M721.8,399.7L729.6,393.9L720.4,390.8Z" stroke-opacity="0.322" stroke-width="3.2" stroke-linejoin="round" fill="#ff9232" fill-opacity="0.13"/></g>
<g stroke="#ff9232" stroke-opacity="0.260" stroke-width="3.2" class="e"><path d="M676.2,398.6Q740.2,383.1 793.4,360.3"/><path d="M794.4,364.8L800.5,357.3L790.9,356.5Z" stroke-opacity="0.322" stroke-width="3.2" stroke-linejoin="round" fill="#ff9232" fill-opacity="0.13"/></g>
<g stroke="#ff9232" stroke-opacity="0.260" stroke-width="3.2" class="e"><path d="M676.2,398.6Q727.1,395.8 769.1,386.7"/><path d="M769.2,391.2L776.7,385.0L767.3,382.4Z" stroke-opacity="0.322" stroke-width="3.2" stroke-linejoin="round" fill="#ff9232" fill-opacity="0.13"/></g>
<g stroke="#ff9232" stroke-opacity="0.260" stroke-width="3.2" class="e"><path d="M676.2,398.6Q734.7,399.9 784.9,392.9"/><path d="M784.6,397.5L792.5,391.8L783.4,388.5Z" stroke-opacity="0.322" stroke-width="3.2" stroke-linejoin="round" fill="#ff9232" fill-opacity="0.13"/></g>
<g stroke="#ff9232" stroke-opacity="0.260" stroke-width="3.2" class="e"><path d="M676.2,398.6Q636.1,349.0 594.2,312.0"/><path d="M597.8,309.2L588.4,306.9L591.9,316.0Z" stroke-opacity="0.322" stroke-width="3.2" stroke-linejoin="round" fill="#ff9232" fill-opacity="0.13"/></g>
<g stroke="#ff9232" stroke-opacity="0.260" stroke-width="3.2" class="e"><path d="M676.2,398.6Q605.9,368.5 539.3,352.6"/><path d="M541.2,348.4L531.8,350.8L539.1,357.1Z" stroke-opacity="0.322" stroke-width="3.2" stroke-linejoin="round" fill="#ff9232" fill-opacity="0.13"/></g>
<g stroke="#ff9232" stroke-opacity="0.260" stroke-width="3.2" class="e"><path d="M676.2,398.6Q625.8,373.6 579.5,359.5"/><path d="M581.6,355.4L572.1,357.2L579.0,364.0Z" stroke-opacity="0.322" stroke-width="3.2" stroke-linejoin="round" fill="#ff9232" fill-opacity="0.13"/></g>
<g stroke="#ff9232" stroke-opacity="0.260" stroke-width="3.2" class="e"><path d="M676.2,398.6Q594.0,380.1 517.7,376.3"/><path d="M518.8,371.9L510.0,376.0L518.3,380.9Z" stroke-opacity="0.322" stroke-width="3.2" stroke-linejoin="round" fill="#ff9232" fill-opacity="0.13"/></g>
<g stroke="#ff9232" stroke-opacity="0.260" stroke-width="3.2" class="e"><path d="M676.2,398.6Q578.9,379.3 487.7,377.4"/><path d="M488.7,372.9L480.0,377.2L488.5,381.9Z" stroke-opacity="0.322" stroke-width="3.2" stroke-linejoin="round" fill="#ff9232" fill-opacity="0.13"/></g>
<g stroke="#ff9232" stroke-opacity="0.260" stroke-width="3.2" class="e"><path d="M676.2,398.6Q614.9,319.2 546.3,257.3"/><path d="M550.0,254.5L540.6,252.1L543.9,261.2Z" stroke-opacity="0.322" stroke-width="3.2" stroke-linejoin="round" fill="#ff9232" fill-opacity="0.13"/></g>
<g stroke="#ff9232" stroke-opacity="0.260" stroke-width="3.2" class="e"><path d="M676.2,398.6Q723.4,351.2 757.2,302.8"/><path d="M760.4,306.1L761.6,296.5L753.0,301.0Z" stroke-opacity="0.322" stroke-width="3.2" stroke-linejoin="round" fill="#ff9232" fill-opacity="0.13"/></g>
<g stroke="#ff9232" stroke-opacity="0.260" stroke-width="3.2" class="e"><path d="M676.2,398.6Q719.5,381.6 752.7,362.1"/><path d="M754.2,366.4L759.4,358.2L749.7,358.6Z" stroke-opacity="0.322" stroke-width="3.2" stroke-linejoin="round" fill="#ff9232" fill-opacity="0.13"/></g>
<g stroke="#ff9232" stroke-opacity="0.260" stroke-width="3.1" class="e"><path d="M686.0,310.0Q678.7,344.3 677.2,371.4"/><path d="M672.8,370.3L676.8,379.1L681.8,370.8Z" stroke-opacity="0.322" stroke-width="3.1" stroke-linejoin="round" fill="#ff9232" fill-opacity="0.13"/></g>
<g stroke="#ff9232" stroke-opacity="0.260" stroke-width="3.1" class="e"><path d="M689.0,259.6Q677.5,318.9 676.5,371.4"/><path d="M672.0,370.4L676.3,379.1L681.0,370.6Z" stroke-opacity="0.322" stroke-width="3.1" stroke-linejoin="round" fill="#ff9232" fill-opacity="0.13"/></g>
<g stroke="#1a6910" stroke-opacity="0.260" stroke-width="3.1" class="e"><path d="M802.3,378.9Q689.3,354.5 581.7,350.9"/><path d="M582.7,346.4L574.0,350.6L582.4,355.4Z" stroke-opacity="0.322" stroke-width="3.1" stroke-linejoin="round" fill="#1a6910" fill-opacity="0.13"/></g>
<g stroke="#7cc57a" stroke-opacity="0.260" stroke-width="3.1" class="e"><path d="M703.5,390.0Q702.2,390.3 708.4,388.9"/><path d="M708.2,384.3L700.8,390.6L710.2,393.1Z" stroke-opacity="0.322" stroke-width="3.1" stroke-linejoin="round" fill="#7cc57a" fill-opacity="0.13"/></g>
<g stroke="#7cc57a" stroke-opacity="0.260" stroke-width="3.1" class="e"><path d="M703.5,390.0Q740.1,389.6 768.5,385.0"/><path d="M768.4,389.6L776.2,383.8L767.0,380.7Z" stroke-opacity="0.322" stroke-width="3.1" stroke-linejoin="round" fill="#7cc57a" fill-opacity="0.13"/></g>
<g stroke="#7cc57a" stroke-opacity="0.260" stroke-width="3.1" class="e"><path d="M703.5,390.0Q699.9,359.0 693.7,336.5"/><path d="M698.3,336.2L691.7,329.1L689.6,338.5Z" stroke-opacity="0.322" stroke-width="3.1" stroke-linejoin="round" fill="#7cc57a" fill-opacity="0.13"/></g>
<g stroke="#7cc57a" stroke-opacity="0.260" stroke-width="3.1" class="e"><path d="M703.5,390.0Q763.3,342.1 808.7,290.4"/><path d="M811.5,294.0L813.8,284.6L804.7,288.1Z" stroke-opacity="0.322" stroke-width="3.1" stroke-linejoin="round" fill="#7cc57a" fill-opacity="0.13"/></g>
<g stroke="#7cc57a" stroke-opacity="0.260" stroke-width="3.1" class="e"><path d="M779.9,345.5Q736.6,362.5 703.4,382.0"/><path d="M701.9,377.7L696.7,385.9L706.4,385.5Z" stroke-opacity="0.322" stroke-width="3.1" stroke-linejoin="round" fill="#7cc57a" fill-opacity="0.13"/></g>
<g stroke="#7cc57a" stroke-opacity="0.260" stroke-width="3.1" class="e"><path d="M779.9,345.5Q784.4,353.8 785.3,355.3"/><path d="M781.1,357.0L789.6,361.7L788.6,352.1Z" stroke-opacity="0.322" stroke-width="3.1" stroke-linejoin="round" fill="#7cc57a" fill-opacity="0.13"/></g>
<g stroke="#7cc57a" stroke-opacity="0.260" stroke-width="3.1" class="e"><path d="M569.6,429.0Q611.8,421.4 644.9,410.0"/><path d="M645.5,414.6L652.2,407.5L642.6,406.0Z" stroke-opacity="0.322" stroke-width="3.1" stroke-linejoin="round" fill="#7cc57a" fill-opacity="0.13"/></g>
<g stroke="#7cc57a" stroke-opacity="0.260" stroke-width="3.1" class="e"><path d="M569.6,429.0Q609.6,441.9 643.2,447.4"/><path d="M641.7,451.7L650.9,448.6L643.1,442.8Z" stroke-opacity="0.322" stroke-width="3.1" stroke-linejoin="round" fill="#7cc57a" fill-opacity="0.13"/></g>
<g stroke="#7cc57a" stroke-opacity="0.260" stroke-width="3.1" class="e"><path d="M797.0,446.7Q750.6,422.6 708.4,408.7"/><path d="M710.6,404.7L701.0,406.3L707.8,413.2Z" stroke-opacity="0.322" stroke-width="3.1" stroke-linejoin="round" fill="#7cc57a" fill-opacity="0.13"/></g>
<g stroke="#ff9232" stroke-opacity="0.260" stroke-width="3.1" class="e"><path d="M677.4,452.3Q678.7,435.2 678.3,425.8"/><path d="M682.8,426.4L677.9,418.1L673.8,426.9Z" stroke-opacity="0.322" stroke-width="3.1" stroke-linejoin="round" fill="#ff9232" fill-opacity="0.13"/></g>
<g stroke="#27d1d4" stroke-opacity="0.260" stroke-width="3.1" class="e"><path d="M618.8,480.8Q638.0,473.7 649.3,467.9"/><path d="M650.6,472.3L656.2,464.3L646.4,464.3Z" stroke-opacity="0.322" stroke-width="3.1" stroke-linejoin="round" fill="#27d1d4" fill-opacity="0.13"/></g>
<g stroke="#1a6910" stroke-opacity="0.260" stroke-width="3.1" class="e"><path d="M695.6,506.8Q677.9,562.7 671.0,612.9"/><path d="M666.7,611.4L670.0,620.6L675.6,612.7Z" stroke-opacity="0.322" stroke-width="3.1" stroke-linejoin="round" fill="#1a6910" fill-opacity="0.13"/></g>
<g stroke="#1a6910" stroke-opacity="0.260" stroke-width="3.1" class="e"><path d="M695.6,506.8Q700.7,565.3 713.7,614.4"/><path d="M709.1,614.7L715.7,621.9L717.8,612.4Z" stroke-opacity="0.322" stroke-width="3.1" stroke-linejoin="round" fill="#1a6910" fill-opacity="0.13"/></g>
<g stroke="#1a6910" stroke-opacity="0.260" stroke-width="3.1" class="e"><path d="M695.6,506.8Q724.5,562.8 757.7,606.8"/><path d="M753.6,608.8L762.4,613.0L760.8,603.4Z" stroke-opacity="0.322" stroke-width="3.1" stroke-linejoin="round" fill="#1a6910" fill-opacity="0.13"/></g>
<g stroke="#1a6910" stroke-opacity="0.260" stroke-width="3.1" class="e"><path d="M695.6,506.8Q722.9,531.1 747.0,546.7"/><path d="M743.8,550.0L753.5,550.9L748.7,542.5Z" stroke-opacity="0.322" stroke-width="3.1" stroke-linejoin="round" fill="#1a6910" fill-opacity="0.13"/></g>
<g stroke="#1a6910" stroke-opacity="0.260" stroke-width="3.1" class="e"><path d="M695.6,506.8Q692.1,461.6 683.1,425.3"/><path d="M687.7,425.0L681.3,417.8L679.0,427.2Z" stroke-opacity="0.322" stroke-width="3.1" stroke-linejoin="round" fill="#1a6910" fill-opacity="0.13"/></g>
<g stroke="#1a6910" stroke-opacity="0.260" stroke-width="3.1" class="e"><path d="M695.6,506.8Q684.1,469.3 670.3,441.2"/><path d="M674.8,440.0L666.9,434.3L666.7,444.0Z" stroke-opacity="0.322" stroke-width="3.1" stroke-linejoin="round" fill="#1a6910" fill-opacity="0.13"/></g>
<g stroke="#1a6910" stroke-opacity="0.260" stroke-width="3.1" class="e"><path d="M695.6,506.8Q672.8,460.2 647.2,424.5"/><path d="M651.4,422.6L642.7,418.2L644.1,427.8Z" stroke-opacity="0.322" stroke-width="3.1" stroke-linejoin="round" fill="#1a6910" fill-opacity="0.13"/></g>
<g stroke="#1a6910" stroke-opacity="0.260" stroke-width="3.1" class="e"><path d="M695.6,506.8Q691.5,488.5 687.7,478.3"/><path d="M692.2,477.5L685.0,471.0L683.8,480.6Z" stroke-opacity="0.322" stroke-width="3.1" stroke-linejoin="round" fill="#1a6910" fill-opacity="0.13"/></g>
<g stroke="#1a6910" stroke-opacity="0.260" stroke-width="3.1" class="e"><path d="M695.6,506.8Q611.3,482.7 532.0,474.3"/><path d="M533.3,469.9L524.3,473.5L532.4,478.9Z" stroke-opacity="0.322" stroke-width="3.1" stroke-linejoin="round" fill="#1a6910" fill-opacity="0.13"/></g>
<g stroke="#1a6910" stroke-opacity="0.260" stroke-width="3.1" class="e"><path d="M695.6,506.8Q747.8,455.6 785.7,402.6"/><path d="M788.8,405.9L790.2,396.3L781.5,400.7Z" stroke-opacity="0.322" stroke-width="3.1" stroke-linejoin="round" fill="#1a6910" fill-opacity="0.13"/></g>
<g stroke="#fbc1f4" stroke-opacity="0.372" stroke-width="1.3" class="e"><path d="M676.2,398.6Q750.7,532.0 843.6,643.2"/><path d="M839.6,645.4L848.5,649.2L846.5,639.7Z" stroke-opacity="0.460" stroke-width="1.3" stroke-linejoin="round" fill="#fbc1f4" fill-opacity="0.18"/></g>
</g>
<g id="nodes">
<circle cx="80" cy="88" r="7.5" fill="#7cc57a"/>
<circle cx="169" cy="131" r="9.5" fill="#ead9b6"/>
<circle cx="313" cy="120" r="8" fill="#27d1d4"/>
<circle cx="238" cy="182" r="8.5" fill="#ffeb2e"/>
<circle cx="317" cy="189" r="9" fill="#ffeb2e"/>
<circle cx="366" cy="204" r="8" fill="#ff9232"/>
<circle cx="137" cy="228" r="8" fill="#27d1d4"/>
<circle cx="267" cy="238" r="8" fill="#ff9232"/>
<circle cx="127" cy="258.5" r="8" fill="#27d1d4"/>
<circle cx="120.4" cy="288.8" r="8" fill="#27d1d4"/>
<circle cx="311" cy="274" r="11.5" fill="#1a6910"/>
<circle cx="423" cy="261" r="9.5" fill="#ead9b6"/>
<circle cx="302" cy="336" r="8" fill="#8b4a12"/>
<circle cx="172" cy="364" r="8.5" fill="#7cc57a"/>
<circle cx="320" cy="393" r="9" fill="#ffeb2e"/>
<circle cx="249" cy="402" r="8" fill="#ffeb2e"/>
<circle cx="128" cy="419" r="8" fill="#95a5f6"/>
<circle cx="331" cy="438" r="9.5" fill="#ead9b6"/>
<circle cx="246" cy="462" r="9.5" fill="#ff9232"/>
<circle cx="329" cy="470" r="8" fill="#ffeb2e"/>
<circle cx="166" cy="489" r="8.5" fill="#7cc57a"/>
<circle cx="324.9" cy="497.5" r="8" fill="#7cc57a"/>
<circle cx="370.6" cy="505.4" r="8" fill="#fbc1f4"/>
<circle cx="400.6" cy="528.4" r="8" fill="#7cc57a"/>
<circle cx="317.3" cy="556.3" r="8" fill="#ff9232"/>
<circle cx="452.4" cy="542.8" r="8" fill="#ff9232"/>
<circle cx="349.5" cy="578.6" r="8" fill="#27d1d4"/>
<circle cx="389.6" cy="591.4" r="8" fill="#ffeb2e"/>
<circle cx="429.5" cy="604.8" r="8" fill="#ffeb2e"/>
<circle cx="476.4" cy="606.8" r="8" fill="#ff9232"/>
<circle cx="530.6" cy="49" r="8" fill="#27d1d4"/>
<circle cx="580.7" cy="58.5" r="8" fill="#ff9232"/>
<circle cx="627.7" cy="59.4" r="8" fill="#555555"/>
<circle cx="483.9" cy="69.2" r="8" fill="#ffeb2e"/>
<circle cx="534" cy="76" r="8.5" fill="#555555"/>
<circle cx="446" cy="82.7" r="8" fill="#27d1d4"/>
<circle cx="613.2" cy="117.2" r="8" fill="#ead9b6"/>
<circle cx="452.7" cy="136.2" r="9" fill="#27d1d4"/>
<circle cx="552.4" cy="162.9" r="9" fill="#ffeb2e"/>
<circle cx="615.4" cy="176.2" r="11" fill="#1a6910"/>
<circle cx="667" cy="185.8" r="10.5" fill="#1a6910"/>
<circle cx="571.8" cy="194.5" r="16" fill="#27d1d4"/>
<circle cx="687" cy="202" r="9" fill="#27d1d4"/>
<circle cx="445" cy="209.8" r="10" fill="#1a6910"/>
<circle cx="654.4" cy="225.2" r="9.5" fill="#555555"/>
<circle cx="492" cy="234.5" r="12.7" fill="#1a6910"/>
<circle cx="523.5" cy="237" r="10.5" fill="#7b1fc2"/>
<circle cx="582" cy="257" r="11.5" fill="#7cc57a"/>
<circle cx="689" cy="259.6" r="11.5" fill="#ff9232"/>
<circle cx="459" cy="273.4" r="11.5" fill="#7b1fc2"/>
<circle cx="616" cy="284" r="10" fill="#7b1fc2"/>
<circle cx="644" cy="290" r="10.5" fill="#000000"/>
<circle cx="571" cy="292" r="12" fill="#ff9232"/>
<circle cx="773.5" cy="279" r="9" fill="#ffeb2e"/>
<circle cx="828" cy="268" r="14.5" fill="#2645d8"/>
<circle cx="686" cy="310" r="20" fill="#000000"/>
<circle cx="490" cy="317" r="9" fill="#7b1fc2"/>
<circle cx="576" cy="320" r="10.5" fill="#27d1d4"/>
<circle cx="622" cy="326" r="11" fill="#1a6910"/>
<circle cx="726.8" cy="320" r="11" fill="#27d1d4"/>
<circle cx="702.8" cy="332.4" r="11.5" fill="#ff9232"/>
<circle cx="922" cy="305.5" r="11.5" fill="#2645d8"/>
<circle cx="927" cy="334" r="11" fill="#2645d8"/>
<circle cx="506" cy="345" r="14.5" fill="#ffeb2e"/>
<circle cx="547" cy="350" r="9.5" fill="#ffeb2e"/>
<circle cx="779.9" cy="345.5" r="9.6" fill="#7cc57a"/>
<circle cx="823.5" cy="347" r="9.3" fill="#ff9232"/>
<circle cx="453" cy="377" r="11" fill="#ff9232"/>
<circle cx="483" cy="375" r="9" fill="#ffeb2e"/>
<circle cx="631" cy="372" r="10.5" fill="#27d1d4"/>
<circle cx="581" cy="386" r="9" fill="#fbc1f4"/>
<circle cx="802.3" cy="378.9" r="13.2" fill="#1a6910"/>
<circle cx="818.9" cy="387.6" r="10.4" fill="#555555"/>
<circle cx="755.7" cy="389" r="9.5" fill="#fbc1f4"/>
<circle cx="657.5" cy="416" r="10" fill="#27d1d4"/>
<circle cx="676.2" cy="398.6" r="21" fill="#ff9232"/>
<circle cx="703.5" cy="390" r="11.7" fill="#7cc57a"/>
<circle cx="630" cy="401" r="10" fill="#27d1d4"/>
<circle cx="877" cy="407" r="9" fill="#fbc1f4"/>
<circle cx="1017" cy="380" r="8" fill="#ff9232"/>
<circle cx="1011" cy="419" r="8" fill="#27d1d4"/>
<circle cx="954" cy="440" r="11.5" fill="#1a6910"/>
<circle cx="1143" cy="451" r="8" fill="#ffeb2e"/>
<circle cx="1117" cy="483" r="8" fill="#000000"/>
<circle cx="503" cy="417" r="16" fill="#fbc1f4"/>
<circle cx="523" cy="434.5" r="9.5" fill="#fbc1f4"/>
<circle cx="569.6" cy="429" r="9.5" fill="#7cc57a"/>
<circle cx="469" cy="445" r="8.5" fill="#ffeb2e"/>
<circle cx="497.5" cy="471" r="16.5" fill="#ff9232"/>
<circle cx="548.7" cy="486.8" r="9.5" fill="#ff9232"/>
<circle cx="618.8" cy="480.8" r="10" fill="#27d1d4"/>
<circle cx="677.4" cy="452.3" r="11" fill="#ff9232"/>
<circle cx="572" cy="507.5" r="9" fill="#ffeb2e"/>
<circle cx="695.6" cy="506.8" r="12.5" fill="#1a6910"/>
<circle cx="629.2" cy="540.7" r="8" fill="#fbc1f4"/>
<circle cx="669.5" cy="545.8" r="8" fill="#ffeb2e"/>
<circle cx="714" cy="539.8" r="8" fill="#fbc1f4"/>
<circle cx="797" cy="446.7" r="9" fill="#7cc57a"/>
<circle cx="872.6" cy="429" r="8" fill="#fbc1f4"/>
<circle cx="852.5" cy="450" r="8" fill="#fbc1f4"/>
<circle cx="807.4" cy="486.4" r="8" fill="#1a6910"/>
<circle cx="852.5" cy="483.5" r="8" fill="#ff9232"/>
<circle cx="764" cy="502.4" r="8.5" fill="#fbc1f4"/>
<circle cx="811.4" cy="514" r="8" fill="#ff9232"/>
<circle cx="762" cy="522.4" r="8" fill="#ffeb2e"/>
<circle cx="774" cy="563.6" r="9.5" fill="#fbc1f4"/>
<circle cx="1131" cy="521" r="9" fill="#ffeb2e"/>
<circle cx="1069" cy="528" r="8" fill="#b02020"/>
<circle cx="1224" cy="566" r="8" fill="#1a6910"/>
<circle cx="987" cy="590" r="6" fill="#fbc1f4"/>
<circle cx="667.6" cy="640" r="8" fill="#2645d8"/>
<circle cx="721" cy="641" r="8" fill="#27d1d4"/>
<circle cx="775.6" cy="630" r="7.5" fill="#fbc1f4"/>
<circle cx="862.6" cy="665.8" r="8" fill="#555555"/>
<circle cx="868" cy="26" r="8" fill="#8b4a12"/>
<circle cx="907" cy="67" r="9" fill="#7b1fc2"/>
<circle cx="1033" cy="96" r="8" fill="#555555"/>
<circle cx="1081" cy="126" r="8" fill="#555555"/>
<circle cx="940" cy="157" r="9.5" fill="#2645d8"/>
<circle cx="1008" cy="187" r="8" fill="#ff9232"/>
<circle cx="872" cy="235" r="8" fill="#27d1d4"/>
<circle cx="915" cy="243.4" r="11" fill="#555555"/>
<circle cx="1000" cy="236" r="9" fill="#555555"/>
<circle cx="1024" cy="263" r="10" fill="#eeeeee"/>
<circle cx="986" cy="278" r="10.5" fill="#2645d8"/>
<circle cx="1135" cy="284" r="9.5" fill="#27d1d4"/>
<circle cx="1117" cy="315" r="8" fill="#555555"/>
<circle cx="1270" cy="267" r="8" fill="#fbc1f4"/>
<circle cx="840" cy="197" r="7" fill="#fbc1f4"/>
<circle cx="796" cy="184" r="8" fill="#27d1d4"/>
<circle cx="807" cy="138" r="9" fill="#95a5f6"/>
<circle cx="742" cy="219" r="9.5" fill="#27d1d4"/>
<circle cx="831" cy="224" r="8" fill="#95a5f6"/>
<circle cx="750" cy="103" r="10" fill="#7b1fc2"/>
<circle cx="733" cy="189" r="11" fill="#1a6910"/>
</g>
<g id="labels" class="l">
<text x="80.6" y="92.6" font-size="9.85" text-anchor="middle">La Croix</text>
<text x="169.4" y="136.1" font-size="10.55" text-anchor="middle">Didier Bertil</text>
<text x="313.5" y="119.6" font-size="9.88" text-anchor="middle">Directorate of Public Works</text>
<text x="238" y="186.4" font-size="10.26" text-anchor="middle">Scientific community</text>
<text x="317" y="194.0" font-size="10.64" text-anchor="middle">Geoscientists_undefined</text>
<text x="366" y="208.9" font-size="10.25" text-anchor="middle">Missions for civil protection</text>
<text x="137" y="232.8" font-size="9.93" text-anchor="middle">Commune of Mamoudzou</text>
<text x="266" y="243.3" font-size="9.91" text-anchor="middle">Zone and Civil Protection Staff of the Indian Ocean</text>
<text x="127" y="263.3" font-size="9.85" text-anchor="middle">Commune of Dembéni</text>
<text x="120" y="294.0" font-size="9.9" text-anchor="middle">Commune of Mtsamboro</text>
<text x="311" y="286.1" font-size="11.37" text-anchor="middle">Mayors' association</text>
<text x="423" y="259.8" font-size="10.74" text-anchor="middle">Frédéric Tronel</text>
<text x="302.7" y="341.0" font-size="9.85" text-anchor="middle">Malgasy authorities</text>
<text x="171.8" y="369.1" font-size="10.36" text-anchor="middle">Journal of Mayotte</text>
<text x="320" y="398.5" font-size="10.6" text-anchor="middle">USGS</text>
<text x="250" y="406.6" font-size="9.96" text-anchor="middle">A working group with structural engineers</text>
<text x="127.8" y="424.0" font-size="9.89" text-anchor="middle">Internet users</text>
<text x="331" y="442.8" font-size="10.68" text-anchor="middle">Bastien Colas</text>
<text x="245.8" y="466.8" font-size="10.69" text-anchor="middle">Lt-colonel Galichet</text>
<text x="329" y="474.6" font-size="9.91" text-anchor="middle">FranceSeisme</text>
<text x="166.5" y="494.4" font-size="10.3" text-anchor="middle">Zakweli</text>
<text x="325" y="502.3" font-size="9.91" text-anchor="middle">Mayotte Hebdo</text>
<text x="370" y="510.3" font-size="9.97" text-anchor="middle">Website of maps4news</text>
<text x="400.6" y="533.0" font-size="9.9" text-anchor="middle">Illustration journalist sources</text>
<text x="317" y="560.6" font-size="9.91" text-anchor="middle">Crisis management services</text>
<text x="452.6" y="548.0" font-size="9.92" text-anchor="middle">State services in Mayotte</text>
<text x="349" y="583.6" font-size="9.96" text-anchor="middle">Chiefs of rescue services in Mayotte</text>
<text x="390" y="596.6" font-size="9.92" text-anchor="middle">Kenya's seismological observatory</text>
<text x="429" y="609.6" font-size="9.91" text-anchor="middle">Madagascar's seismological observatory</text>
<text x="476.4" y="618.3" font-size="9.89" text-anchor="middle">French military crisis units</text>
<text x="530.7" y="47.8" font-size="9.93" text-anchor="middle">Mayotte Social Security Fund</text>
<text x="580.6" y="56.7" font-size="9.87" text-anchor="middle">Public authorities</text>
<text x="630.7" y="63.8" font-size="9.94" text-anchor="middle">Association of</text>
<text x="634.8" y="72.9" font-size="9.94" text-anchor="middle">Nurses of Mayotte</text>
<text x="483.8" y="68.3" font-size="9.86" text-anchor="middle">College of Physicians</text>
<text x="534.6" y="81.2" font-size="9.89" text-anchor="middle">Religious leaders</text>
<text x="535.2" y="90.3" font-size="9.89" text-anchor="middle">in Mayotte</text>
<text x="447" y="86.0" font-size="9.85" text-anchor="middle">UNAF</text>
<text x="613" y="122.8" font-size="9.88" text-anchor="middle">Christophe Sira</text>
<text x="454.7" y="136.2" font-size="10.4" text-anchor="middle">DEAL</text>
<text x="552.4" y="161.8" font-size="10.28" text-anchor="middle">Scientific campaigns</text>
<text x="612.7" y="171.7" font-size="11.36" text-anchor="middle">Department of Mayotte</text>
<text x="670" y="180.9" font-size="11" text-anchor="middle">Departmental Council</text>
<text x="670" y="189.6" font-size="11" text-anchor="middle">Vice-President</text>
<text x="571.7" y="197.7" font-size="12.5" text-anchor="middle">UDAF</text>
<text x="687.5" y="211.6" font-size="10.29" text-anchor="middle">Agents of the departmental council</text>
<text x="445" y="215.6" font-size="10.89" text-anchor="middle">Director General of Services in Koungou</text>
<text x="654.5" y="230.7" font-size="10.7" text-anchor="middle">Red Cross</text>
<text x="493" y="234.4" font-size="11.96" text-anchor="middle">Mayotte's deputy Thani Mohamed Soilihi</text>
<text x="527.6" y="244.1" font-size="10.81" text-anchor="middle">French State</text>
<text x="582" y="256.5" font-size="11.56" text-anchor="middle">Mayotte la 1ère</text>
<text x="689" y="265.4" font-size="11.4" text-anchor="middle">Cell of psychological support from CHM</text>
<text x="466" y="279.1" font-size="11.74" text-anchor="middle">Minister for Territorial Cohesion</text>
<text x="620" y="279.2" font-size="10.85" text-anchor="middle">Minister of Overseas</text>
<text x="647" y="289.8" font-size="11.39" text-anchor="middle">Children in Mayotte</text>
<text x="571.7" y="297.9" font-size="11.76" text-anchor="middle">Interdepartmental mission</text>
<text x="566.5" y="307.9" font-size="11.76" text-anchor="middle">in June 2018</text>
<text x="773.8" y="284.4" font-size="10.31" text-anchor="middle">Seismologists mission in June 2018</text>
<text x="828" y="274.7" font-size="12.73" text-anchor="middle">Rectorate of Mayotte</text>
<text x="688" y="313.0" font-size="15.1" text-anchor="middle">Populations in Mayotte</text>
<text x="490" y="317.4" font-size="10.33" text-anchor="middle">Ministry of Interior</text>
<text x="570" y="323.1" font-size="10.95" text-anchor="middle">Communes of Mayotte</text>
<text x="622" y="332.1" font-size="11.33" text-anchor="middle">Mayors in Mayotte</text>
<text x="700.5" y="326.1" font-size="11.31" text-anchor="start">President of UDAF</text>
<text x="705.7" y="339.8" font-size="11.58" text-anchor="middle">Chief of staff of the Préfecture</text>
<text x="921" y="310.7" font-size="11.36" text-anchor="middle">Chief of staff of the Rectorat of Mayotte</text>
<text x="927.7" y="338.0" font-size="11.2" text-anchor="middle">Teachers in Mayotte</text>
<text x="506.4" y="344.8" font-size="12.6" text-anchor="middle">BRGM</text>
<text x="547.6" y="355.5" font-size="10.63" text-anchor="middle">Macroseismic Intervention Group</text>
<text x="780" y="350.5" font-size="10.7" text-anchor="middle">Radio</text>
<text x="801.8" y="346.5" font-size="10.6" text-anchor="start">Authorities in charge</text>
<text x="801.8" y="354.8" font-size="10.6" text-anchor="start">of civil protection</text>
<text x="453.4" y="383.1" font-size="11.16" text-anchor="middle">Mendy Bengoubou</text>
<text x="483.7" y="375.9" font-size="10.4" text-anchor="middle">BCSF</text>
<text x="631" y="377.2" font-size="10.97" text-anchor="middle">CHM (Mayotte's hospital)</text>
<text x="580.6" y="388.9" font-size="10.7" text-anchor="middle">Website of BRGM</text>
<text x="816.4" y="377.1" font-size="12.56" text-anchor="middle">Mayor of Mamoudzou</text>
<text x="811.4" y="387.7" font-size="11.12" text-anchor="start">Experts to ascertain the damage</text>
<text x="811.4" y="396.7" font-size="11.12" text-anchor="start">from Prefecture</text>
<text x="755.4" y="389.3" font-size="10.51" text-anchor="middle">Social medias</text>
<text x="657" y="420.3" font-size="11.4" text-anchor="middle">Regional Health Agency</text>
<text x="676.7" y="401.1" font-size="15.95" text-anchor="middle">Préfecture of Mayotte</text>
<text x="704" y="389.5" font-size="11.2" text-anchor="middle">AFP</text>
<text x="630" y="408.6" font-size="10.84" text-anchor="middle">Commune of Chirongui</text>
<text x="877" y="412.4" font-size="10.35" text-anchor="middle">Social medias of Government</text>
<text x="1011" y="379.3" font-size="9.95" text-anchor="start">Dedicated services</text>
<text x="1012" y="387.6" font-size="9.95" text-anchor="start">in case of big earthquake</text>
<text x="1018" y="422.3" font-size="9.96" text-anchor="middle">Community Social Action Center</text>
<text x="942.5" y="439.1" font-size="11.45" text-anchor="start">Departmental advisor</text>
<text x="941" y="450.5" font-size="11.45" text-anchor="start">Chihaboudine Ben Youssouf</text>
<text x="1143" y="455.6" font-size="9.85" text-anchor="middle">IPGP</text>
<text x="1117" y="488.6" font-size="9.92" text-anchor="middle">Investisors in Mayotte</text>
<text x="503" y="423.4" font-size="13.3" text-anchor="middle">Twitter</text>
<text x="523" y="440.2" font-size="10.65" text-anchor="middle">Website of Préfecture of Mayotte</text>
<text x="569.8" y="430.5" font-size="10.7" text-anchor="middle">Press</text>
<text x="469" y="450.6" font-size="9.84" text-anchor="middle">Experts_undefined</text>
<text x="497.6" y="477.4" font-size="13.38" text-anchor="middle">Préfet of Mayotte</text>
<text x="555" y="489.2" font-size="10.7" text-anchor="middle">Departmental Council</text>
<text x="553.6" y="498.5" font-size="10.7" text-anchor="middle">Crisis unit</text>
<text x="628.6" y="481.0" font-size="10.65" text-anchor="middle">Emergency services</text>
<text x="677" y="457.7" font-size="11.12" text-anchor="middle">Rescue services</text>
<text x="579" y="513.1" font-size="10.3" text-anchor="middle">Seismic monitoring</text>
<text x="579" y="522.0" font-size="10.3" text-anchor="middle">Institutes</text>
<text x="696" y="512.9" font-size="11.74" text-anchor="middle">Mayor of Chirongui</text>
<text x="629.2" y="539.7" font-size="9.91" text-anchor="middle">Official websites</text>
<text x="667.7" y="550.9" font-size="9.85" text-anchor="middle">Mission of</text>
<text x="667.7" y="560.7" font-size="9.85" text-anchor="middle">BCSF-RENASS</text>
<text x="716.9" y="541.7" font-size="9.88" text-anchor="middle">Official social medias</text>
<text x="797" y="450.8" font-size="10.4" text-anchor="middle">TV</text>
<text x="885" y="431.9" font-size="10.33" text-anchor="middle">Ministry of Interior</text>
<text x="887" y="440.8" font-size="10.33" text-anchor="middle">Social medias</text>
<text x="859.5" y="451.4" font-size="10.26" text-anchor="middle">Website of the</text>
<text x="861" y="460.2" font-size="10.26" text-anchor="middle">Government</text>
<text x="810" y="485.0" font-size="9.86" text-anchor="middle">Municipalities</text>
<text x="811" y="493.3" font-size="9.86" text-anchor="middle">in Mayotte</text>
<text x="849" y="486.1" font-size="9.85" text-anchor="start">Rescue teams from Paris and La Reunion</text>
<text x="785" y="502.8" font-size="9.93" text-anchor="middle">International institutes websites</text>
<text x="861" y="517.3" font-size="9.9" text-anchor="middle">Experts in crisis management in Mayotte</text>
<text x="762" y="528.3" font-size="9.85" text-anchor="middle">RENASS</text>
<text x="774.3" y="569.3" font-size="10.6" text-anchor="middle">Facebook</text>
<text x="1131" y="519.6" font-size="10.38" text-anchor="middle">A futur observatory in Mayotte</text>
<text x="1069.5" y="533.3" font-size="9.93" text-anchor="middle">All stakeholders_undefined</text>
<text x="1224" y="570.6" font-size="9.88" text-anchor="middle">Elected local officials</text>
<text x="987" y="594.9" font-size="8.89" text-anchor="middle">Website of international scientific institutes</text>
<text x="667.7" y="644.0" font-size="8.95" text-anchor="middle">Schoolers in Mayotte</text>
<text x="722.5" y="645.8" font-size="9.93" text-anchor="middle">Territorial collectivities in Mayotte</text>
<text x="776" y="635.3" font-size="9.9" text-anchor="middle">Facebook page of the mayor of Chirongui</text>
<text x="863" y="671.0" font-size="9.93" text-anchor="middle">STTM members</text>
<text x="867.8" y="31.3" font-size="9.87" text-anchor="middle">Other populations</text>
<text x="906" y="72.4" font-size="10.35" text-anchor="middle">Minister of National Education</text>
<text x="1033" y="101.3" font-size="9.9" text-anchor="middle">Private enterprises in Mayotte</text>
<text x="1081" y="131.3" font-size="9.92" text-anchor="middle">Deputy Managing Director of SFR Réunion</text>
<text x="940.5" y="162.5" font-size="10.64" text-anchor="middle">Educational staff members in Mayotte</text>
<text x="1008" y="192.6" font-size="9.9" text-anchor="middle">Crisis unit in rectorat and préfecture</text>
<text x="866.5" y="236.2" font-size="9.82" text-anchor="middle">Commune of Sada</text>
<text x="915" y="249.0" font-size="11.24" text-anchor="middle">Union CGT Educ'action</text>
<text x="1068" y="239.7" font-size="10.33" text-anchor="middle">Experts enterprise to ascertain the damage</text>
<text x="1031" y="261.9" font-size="10.95" text-anchor="middle">Schoolers in Mayotte</text>
<text x="986" y="283.6" font-size="10.93" text-anchor="middle">Schools administration in Mayotte</text>
<text x="1135" y="289.2" font-size="10.64" text-anchor="middle">Departmental service of territorial intelligence</text>
<text x="1117.5" y="320.3" font-size="9.85" text-anchor="middle">Expert_undefined</text>
<text x="1270" y="272.0" font-size="9.85" text-anchor="middle">Internet</text>
<text x="856.5" y="197.6" font-size="9.85" text-anchor="middle">Préfet of Mayotte</text>
<text x="854.3" y="207.0" font-size="9.85" text-anchor="middle">Facebook page</text>
<text x="810.5" y="182.3" font-size="9.94" text-anchor="middle">Agents of the departement</text>
<text x="807" y="142.7" font-size="10.33" text-anchor="middle">Comorian community in La Reunion</text>
<text x="748.8" y="225.8" font-size="10.61" text-anchor="middle">Health services</text>
<text x="838" y="226.2" font-size="9.82" text-anchor="middle">Mahorese in La Reunion</text>
<text x="750.7" y="107.9" font-size="10.99" text-anchor="middle">Prime Minister</text>
<text x="751" y="194.7" font-size="11.2" text-anchor="middle">Departmental Council</text>
<text x="752" y="204.3" font-size="11.2" text-anchor="middle">President</text>
</g>
<clipPath id="bk"><circle cx="644" cy="290" r="10.5"/><circle cx="686" cy="310" r="20"/><circle cx="1117" cy="483" r="8"/></clipPath>
<g clip-path="url(#bk)" fill="#fff" stroke="#fff" stroke-width="0.3">
<text x="620" y="279.2" font-size="10.85" text-anchor="middle">Minister of Overseas</text>
<text x="647" y="289.8" font-size="11.39" text-anchor="middle">Children in Mayotte</text>
<text x="571.7" y="297.9" font-size="11.76" text-anchor="middle">Interdepartmental mission</text>
<text x="566.5" y="307.9" font-size="11.76" text-anchor="middle">in June 2018</text>
<text x="773.8" y="284.4" font-size="10.31" text-anchor="middle">Seismologists mission in June 2018</text>
<text x="688" y="313.0" font-size="15.1" text-anchor="middle">Populations in Mayotte</text>
<text x="570" y="323.1" font-size="10.95" text-anchor="middle">Communes of Mayotte</text>
<text x="622" y="332.1" font-size="11.33" text-anchor="middle">Mayors in Mayotte</text>
<text x="700.5" y="326.1" font-size="11.31" text-anchor="start">President of UDAF</text>
<text x="705.7" y="339.8" font-size="11.58" text-anchor="middle">Chief of staff of the Préfecture</text>
<text x="1117" y="488.6" font-size="9.92" text-anchor="middle">Investisors in Mayotte</text>
</g>
<text x="16" y="40.6" font-size="26.4" font-weight="bold">Period 1: 05-10-2018 to 07-26-2018</text>
<text x="16.5" y="67.6" font-size="22.15" font-style="italic">First months of the seismo-volcanic crisis</text>
<g id="legend">
<text x="23" y="672" font-size="24.55">Node degree</text>
<text x="207" y="672" font-size="24.55">Node category</text>
<circle cx="89" cy="706" r="16.5" fill="#000"/>
<text x="112" y="713" font-size="19.65">20</text>
<circle cx="89" cy="760" r="19" fill="#000"/>
<text x="112" y="767" font-size="19.65">30</text>
<circle cx="89" cy="815" r="21" fill="#000"/>
<text x="112" y="822" font-size="19.65">40</text>
<g stroke="#000000" stroke-opacity="0.3" stroke-width="2.8" fill="none"><path d="M197,704H226"/><path d="M224,700L232,704L224,708Z" stroke="none" fill="#000000" fill-opacity="0.41"/></g><circle cx="214.4" cy="704" r="5.8" fill="#000000"/><text x="240.3" y="711" font-size="19.65">At-risk populations in Mayotte</text>
<g stroke="#1a6910" stroke-opacity="0.3" stroke-width="2.8" fill="none"><path d="M197,746H226"/><path d="M224,742L232,746L224,750Z" stroke="none" fill="#1a6910" fill-opacity="0.41"/></g><circle cx="214.4" cy="746" r="5.8" fill="#1a6910"/><text x="240.3" y="754" font-size="19.65">Elected local officials</text>
<g stroke="#27d1d4" stroke-opacity="0.3" stroke-width="2.8" fill="none"><path d="M197,788.5H226"/><path d="M224,784.5L232,788.5L224,792.5Z" stroke="none" fill="#27d1d4" fill-opacity="0.41"/></g><circle cx="214.4" cy="788.5" r="5.8" fill="#27d1d4"/><text x="240.3" y="785" font-size="19.65">Public and parapublic services</text><text x="240.3" y="802" font-size="19.65">to the population</text>
<g stroke="#2645d8" stroke-opacity="0.3" stroke-width="2.8" fill="none"><path d="M197,826H226"/><path d="M224,822L232,826L224,830Z" stroke="none" fill="#2645d8" fill-opacity="0.41"/></g><circle cx="214.4" cy="826" r="5.8" fill="#2645d8"/><text x="240.3" y="833" font-size="19.65">Educational staff and institutions</text>
<g stroke="#555555" stroke-opacity="0.3" stroke-width="2.8" fill="none"><path d="M197,869H226"/><path d="M224,865L232,869L224,873Z" stroke="none" fill="#555555" fill-opacity="0.41"/></g><circle cx="214.4" cy="869" r="5.8" fill="#555555"/><text x="240.3" y="876" font-size="19.65">Civil society, private sector and NGOs</text>
<g stroke="#7b1fc2" stroke-opacity="0.3" stroke-width="2.8" fill="none"><path d="M197,912H226"/><path d="M224,908L232,912L224,916Z" stroke="none" fill="#7b1fc2" fill-opacity="0.41"/></g><circle cx="214.4" cy="912" r="5.8" fill="#7b1fc2"/><text x="240.3" y="917" font-size="19.65">French political institutions</text>
<g stroke="#8b4a12" stroke-opacity="0.3" stroke-width="2.8" fill="none"><path d="M584,704H613"/><path d="M611,700L619,704L611,708Z" stroke="none" fill="#8b4a12" fill-opacity="0.41"/></g><circle cx="601.4" cy="704" r="5.8" fill="#8b4a12"/><text x="627" y="702.3" font-size="19.65">Foreign states, communities and</text><text x="627" y="718.3" font-size="19.65">personalities</text>
<g stroke="#7cc57a" stroke-opacity="0.3" stroke-width="2.8" fill="none"><path d="M584,745H613"/><path d="M611,741L619,745L611,749Z" stroke="none" fill="#7cc57a" fill-opacity="0.41"/></g><circle cx="601.4" cy="745" r="5.8" fill="#7cc57a"/><text x="627" y="750.8" font-size="19.65">Mass media and associated journalists</text>
<g stroke="#95a5f6" stroke-opacity="0.3" stroke-width="2.8" fill="none"><path d="M584,788H613"/><path d="M611,784L619,788L611,792Z" stroke="none" fill="#95a5f6" fill-opacity="0.41"/></g><circle cx="601.4" cy="788" r="5.8" fill="#95a5f6"/><text x="627" y="792.3" font-size="19.65">Other populations</text>
<g stroke="#b02020" stroke-opacity="0.3" stroke-width="2.8" fill="none"><path d="M584,826H613"/><path d="M611,822L619,826L611,830Z" stroke="none" fill="#b02020" fill-opacity="0.41"/></g><circle cx="601.4" cy="826" r="5.8" fill="#b02020"/><text x="627" y="831.8" font-size="19.65">Diverse/Undefined</text>
<g stroke="#ead9b6" stroke-opacity="0.3" stroke-width="2.8" fill="none"><path d="M584,869H613"/><path d="M611,865L619,869L611,873Z" stroke="none" fill="#ead9b6" fill-opacity="0.41"/></g><circle cx="601.4" cy="869" r="5.8" fill="#ead9b6"/><text x="627" y="866.3" font-size="19.65">Scientific research and monitoring</text><text x="627" y="883.3" font-size="19.65">(named individuals)</text>
<g stroke="#eeeeee" stroke-opacity="0.3" stroke-width="2.8" fill="none"><path d="M584,911H613"/><path d="M611,907L619,911L611,915Z" stroke="none" fill="#eeeeee" fill-opacity="0.41"/></g><circle cx="601.4" cy="911" r="5.8" fill="#eeeeee"/><text x="627" y="916.3" font-size="19.65">Students and schoolers in Mayotte</text>
<g stroke="#ff9232" stroke-opacity="0.3" stroke-width="2.8" fill="none"><path d="M972,704H1001"/><path d="M999,700L1007,704L999,708Z" stroke="none" fill="#ff9232" fill-opacity="0.41"/></g><circle cx="989.4" cy="704" r="5.8" fill="#ff9232"/><text x="1018" y="706.6" font-size="19.65">Risks and crisis management actors</text>
<g stroke="#fbc1f4" stroke-opacity="0.3" stroke-width="2.8" fill="none"><path d="M972,746.6H1001"/><path d="M999,742.6L1007,746.6L999,750.6Z" stroke="none" fill="#fbc1f4" fill-opacity="0.41"/></g><circle cx="989.4" cy="746.6" r="5.8" fill="#fbc1f4"/><text x="1018" y="748.6" font-size="19.65">Social medias/Internet</text>
<g stroke="#ffeb2e" stroke-opacity="0.3" stroke-width="2.8" fill="none"><path d="M972,788.9H1001"/><path d="M999,784.9L1007,788.9L999,792.9Z" stroke="none" fill="#ffeb2e" fill-opacity="0.41"/></g><circle cx="989.4" cy="788.9" r="5.8" fill="#ffeb2e"/><text x="1018" y="784.6" font-size="19.65">Scientific research and monitoring</text><text x="1018" y="801.6" font-size="19.65">(groups, publications, institutions)</text>
<g stroke="#999999" stroke-opacity="0.75" stroke-width="2.8" fill="none"><path d="M972,824H1001"/><path d="M999,820L1007,824L999,828Z" stroke="none" fill="#999999" fill-opacity="1.00"/></g><circle cx="989.4" cy="824" r="5.8" fill="#999999"/><text x="1018" y="831.1" font-size="19.65">Local identified personalities</text>
</g>
</svg></body></html>
